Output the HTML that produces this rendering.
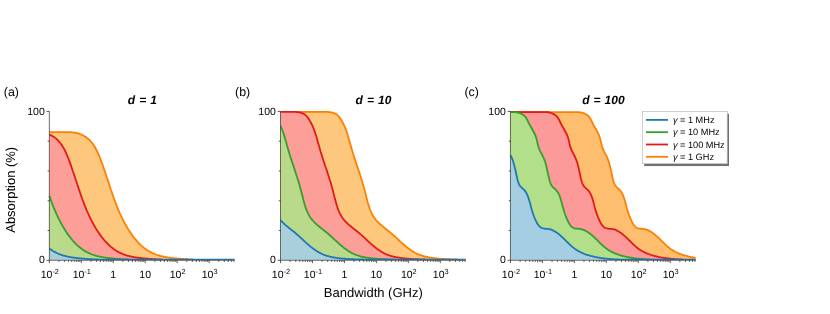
<!DOCTYPE html>
<html><head><meta charset="utf-8"><title>Absorption vs bandwidth</title>
<style>html,body{margin:0;padding:0;background:#fff}svg{display:block;will-change:transform;opacity:0.999}svg text{font-family:"Liberation Sans",sans-serif}</style></head>
<body>
<svg width="830" height="314" viewBox="0 0 830 314" font-family="Liberation Sans, sans-serif" fill="#000" text-rendering="geometricPrecision">
<rect width="830" height="314" fill="#fff"/>
<clipPath id="cpa"><rect x="47.35" y="100" width="189.20" height="160.20"/></clipPath><g clip-path="url(#cpa)"><polygon points="49.35,259.90 49.4,132.08 50.1,132.08 50.8,132.08 51.5,132.08 52.2,132.08 52.9,132.08 53.6,132.08 54.4,132.08 55.1,132.08 55.8,132.08 56.5,132.08 57.2,132.08 57.9,132.08 58.6,132.08 59.4,132.08 60.1,132.08 60.8,132.08 61.5,132.08 62.2,132.08 62.9,132.08 63.7,132.08 64.4,132.08 65.1,132.08 65.8,132.08 66.5,132.08 67.2,132.08 67.9,132.08 68.7,132.08 69.4,132.08 70.1,132.10 70.8,132.16 71.5,132.22 72.2,132.30 72.9,132.39 73.7,132.50 74.4,132.62 75.1,132.75 75.8,132.90 76.5,133.06 77.2,133.24 78.0,133.44 78.7,133.66 79.4,133.89 80.1,134.15 80.8,134.42 81.5,134.72 82.2,135.04 83.0,135.39 83.7,135.77 84.4,136.17 85.1,136.60 85.8,137.07 86.5,137.57 87.2,138.11 88.0,138.69 88.7,139.31 89.4,139.98 90.1,140.70 90.8,141.47 91.5,142.30 92.3,143.19 93.0,144.15 93.7,145.18 94.4,146.28 95.1,147.46 95.8,148.72 96.5,150.08 97.3,151.52 98.0,153.06 98.7,154.70 99.4,156.42 100.1,158.23 100.8,160.11 101.5,162.05 102.3,164.03 103.0,166.05 103.7,168.10 104.4,170.19 105.1,172.30 105.8,174.43 106.6,176.58 107.3,178.74 108.0,180.90 108.7,183.07 109.4,185.22 110.1,187.37 110.8,189.50 111.6,191.60 112.3,193.68 113.0,195.73 113.7,197.74 114.4,199.71 115.1,201.64 115.9,203.53 116.6,205.37 117.3,207.17 118.0,208.92 118.7,210.62 119.4,212.28 120.1,213.89 120.9,215.46 121.6,216.98 122.3,218.46 123.0,219.90 123.7,221.30 124.4,222.66 125.1,223.98 125.9,225.27 126.6,226.51 127.3,227.73 128.0,228.90 128.7,230.05 129.4,231.16 130.2,232.24 130.9,233.29 131.6,234.31 132.3,235.31 133.0,236.27 133.7,237.21 134.4,238.12 135.2,239.01 135.9,239.87 136.6,240.70 137.3,241.51 138.0,242.29 138.7,243.04 139.4,243.77 140.2,244.47 140.9,245.15 141.6,245.80 142.3,246.43 143.0,247.04 143.7,247.62 144.5,248.18 145.2,248.71 145.9,249.23 146.6,249.72 147.3,250.20 148.0,250.65 148.7,251.09 149.5,251.51 150.2,251.90 150.9,252.28 151.6,252.65 152.3,253.00 153.0,253.33 153.7,253.64 154.5,253.94 155.2,254.23 155.9,254.50 156.6,254.75 157.3,255.00 158.0,255.23 158.8,255.44 159.5,255.65 160.2,255.85 160.9,256.03 161.6,256.21 162.3,256.38 163.0,256.54 163.8,256.69 164.5,256.83 165.2,256.97 165.9,257.10 166.6,257.22 167.3,257.34 168.0,257.46 168.8,257.56 169.5,257.67 170.2,257.76 170.9,257.86 171.6,257.95 172.3,258.03 173.1,258.12 173.8,258.19 174.5,258.27 175.2,258.34 175.9,258.41 176.6,258.48 177.3,258.54 178.1,258.60 178.8,258.66 179.5,258.72 180.2,258.77 180.9,258.83 181.6,258.88 182.4,258.93 183.1,258.98 183.8,259.02 184.5,259.07 185.2,259.11 185.9,259.15 186.6,259.20 187.4,259.24 188.1,259.27 188.8,259.31 189.5,259.35 190.2,259.38 190.9,259.41 191.6,259.44 192.4,259.47 193.1,259.50 193.8,259.53 194.5,259.56 195.2,259.58 195.9,259.60 196.7,259.60 197.4,259.60 198.1,259.60 198.8,259.60 199.5,259.60 200.2,259.60 200.9,259.60 201.7,259.60 202.4,259.60 203.1,259.60 203.8,259.60 204.5,259.60 205.2,259.60 205.9,259.60 206.7,259.60 207.4,259.60 208.1,259.60 208.8,259.60 209.5,259.60 210.2,259.60 211.0,259.60 211.7,259.60 212.4,259.60 213.1,259.60 213.8,259.60 214.5,259.60 215.2,259.60 216.0,259.60 216.7,259.60 217.4,259.60 218.1,259.60 218.8,259.60 219.5,259.60 220.2,259.60 221.0,259.60 221.7,259.60 222.4,259.60 223.1,259.60 223.8,259.60 224.5,259.60 225.3,259.60 226.0,259.60 226.7,259.60 227.4,259.60 228.1,259.60 228.8,259.60 229.5,259.60 230.3,259.60 231.0,259.60 231.7,259.60 232.4,259.60 233.1,259.60 233.8,259.60 234.6,259.60 234.55,259.90" fill="#fdc77e" stroke="none"/>
<polyline points="49.4,132.08 50.1,132.08 50.8,132.08 51.5,132.08 52.2,132.08 52.9,132.08 53.6,132.08 54.4,132.08 55.1,132.08 55.8,132.08 56.5,132.08 57.2,132.08 57.9,132.08 58.6,132.08 59.4,132.08 60.1,132.08 60.8,132.08 61.5,132.08 62.2,132.08 62.9,132.08 63.7,132.08 64.4,132.08 65.1,132.08 65.8,132.08 66.5,132.08 67.2,132.08 67.9,132.08 68.7,132.08 69.4,132.08 70.1,132.10 70.8,132.16 71.5,132.22 72.2,132.30 72.9,132.39 73.7,132.50 74.4,132.62 75.1,132.75 75.8,132.90 76.5,133.06 77.2,133.24 78.0,133.44 78.7,133.66 79.4,133.89 80.1,134.15 80.8,134.42 81.5,134.72 82.2,135.04 83.0,135.39 83.7,135.77 84.4,136.17 85.1,136.60 85.8,137.07 86.5,137.57 87.2,138.11 88.0,138.69 88.7,139.31 89.4,139.98 90.1,140.70 90.8,141.47 91.5,142.30 92.3,143.19 93.0,144.15 93.7,145.18 94.4,146.28 95.1,147.46 95.8,148.72 96.5,150.08 97.3,151.52 98.0,153.06 98.7,154.70 99.4,156.42 100.1,158.23 100.8,160.11 101.5,162.05 102.3,164.03 103.0,166.05 103.7,168.10 104.4,170.19 105.1,172.30 105.8,174.43 106.6,176.58 107.3,178.74 108.0,180.90 108.7,183.07 109.4,185.22 110.1,187.37 110.8,189.50 111.6,191.60 112.3,193.68 113.0,195.73 113.7,197.74 114.4,199.71 115.1,201.64 115.9,203.53 116.6,205.37 117.3,207.17 118.0,208.92 118.7,210.62 119.4,212.28 120.1,213.89 120.9,215.46 121.6,216.98 122.3,218.46 123.0,219.90 123.7,221.30 124.4,222.66 125.1,223.98 125.9,225.27 126.6,226.51 127.3,227.73 128.0,228.90 128.7,230.05 129.4,231.16 130.2,232.24 130.9,233.29 131.6,234.31 132.3,235.31 133.0,236.27 133.7,237.21 134.4,238.12 135.2,239.01 135.9,239.87 136.6,240.70 137.3,241.51 138.0,242.29 138.7,243.04 139.4,243.77 140.2,244.47 140.9,245.15 141.6,245.80 142.3,246.43 143.0,247.04 143.7,247.62 144.5,248.18 145.2,248.71 145.9,249.23 146.6,249.72 147.3,250.20 148.0,250.65 148.7,251.09 149.5,251.51 150.2,251.90 150.9,252.28 151.6,252.65 152.3,253.00 153.0,253.33 153.7,253.64 154.5,253.94 155.2,254.23 155.9,254.50 156.6,254.75 157.3,255.00 158.0,255.23 158.8,255.44 159.5,255.65 160.2,255.85 160.9,256.03 161.6,256.21 162.3,256.38 163.0,256.54 163.8,256.69 164.5,256.83 165.2,256.97 165.9,257.10 166.6,257.22 167.3,257.34 168.0,257.46 168.8,257.56 169.5,257.67 170.2,257.76 170.9,257.86 171.6,257.95 172.3,258.03 173.1,258.12 173.8,258.19 174.5,258.27 175.2,258.34 175.9,258.41 176.6,258.48 177.3,258.54 178.1,258.60 178.8,258.66 179.5,258.72 180.2,258.77 180.9,258.83 181.6,258.88 182.4,258.93 183.1,258.98 183.8,259.02 184.5,259.07 185.2,259.11 185.9,259.15 186.6,259.20 187.4,259.24 188.1,259.27 188.8,259.31 189.5,259.35 190.2,259.38 190.9,259.41 191.6,259.44 192.4,259.47 193.1,259.50" fill="none" stroke="#ff7f00" stroke-width="1.8" stroke-linejoin="round"/>
<polygon points="49.35,259.90 49.4,134.58 50.1,134.89 50.8,135.23 51.5,135.59 52.2,135.98 52.9,136.40 53.6,136.85 54.4,137.34 55.1,137.86 55.8,138.42 56.5,139.02 57.2,139.67 57.9,140.37 58.6,141.11 59.4,141.92 60.1,142.78 60.8,143.70 61.5,144.70 62.2,145.76 62.9,146.91 63.7,148.13 64.4,149.45 65.1,150.85 65.8,152.35 66.5,153.94 67.2,155.62 67.9,157.39 68.7,159.24 69.4,161.16 70.1,163.12 70.8,165.12 71.5,167.16 72.2,169.23 72.9,171.33 73.7,173.45 74.4,175.59 75.1,177.75 75.8,179.91 76.5,182.08 77.2,184.24 78.0,186.39 78.7,188.53 79.4,190.64 80.1,192.73 80.8,194.79 81.5,196.82 82.2,198.81 83.0,200.76 83.7,202.67 84.4,204.53 85.1,206.35 85.8,208.12 86.5,209.85 87.2,211.52 88.0,213.16 88.7,214.74 89.4,216.29 90.1,217.79 90.8,219.25 91.5,220.67 92.3,222.04 93.0,223.38 93.7,224.68 94.4,225.95 95.1,227.17 95.8,228.37 96.5,229.53 97.3,230.66 98.0,231.75 98.7,232.82 99.4,233.85 100.1,234.86 100.8,235.83 101.5,236.78 102.3,237.71 103.0,238.61 103.7,239.48 104.4,240.32 105.1,241.14 105.8,241.93 106.6,242.70 107.3,243.44 108.0,244.15 108.7,244.84 109.4,245.51 110.1,246.15 110.8,246.76 111.6,247.35 112.3,247.92 113.0,248.47 113.7,249.00 114.4,249.50 115.1,249.98 115.9,250.45 116.6,250.89 117.3,251.32 118.0,251.72 118.7,252.11 119.4,252.48 120.1,252.84 120.9,253.18 121.6,253.50 122.3,253.81 123.0,254.10 123.7,254.37 124.4,254.64 125.1,254.89 125.9,255.12 126.6,255.34 127.3,255.56 128.0,255.76 128.7,255.95 129.4,256.13 130.2,256.30 130.9,256.46 131.6,256.62 132.3,256.77 133.0,256.91 133.7,257.04 134.4,257.17 135.2,257.29 135.9,257.41 136.6,257.52 137.3,257.62 138.0,257.72 138.7,257.82 139.4,257.91 140.2,257.99 140.9,258.08 141.6,258.16 142.3,258.23 143.0,258.31 143.7,258.38 144.5,258.45 145.2,258.51 145.9,258.57 146.6,258.63 147.3,258.69 148.0,258.75 148.7,258.80 149.5,258.85 150.2,258.90 150.9,258.95 151.6,259.00 152.3,259.05 153.0,259.09 153.7,259.14 154.5,259.18 155.2,259.22 155.9,259.26 156.6,259.29 157.3,259.33 158.0,259.36 158.8,259.40 159.5,259.43 160.2,259.46 160.9,259.49 161.6,259.52 162.3,259.55 163.0,259.57 163.8,259.60 164.5,259.60 165.2,259.60 165.9,259.60 166.6,259.60 167.3,259.60 168.0,259.60 168.8,259.60 169.5,259.60 170.2,259.60 170.9,259.60 171.6,259.60 172.3,259.60 173.1,259.60 173.8,259.60 174.5,259.60 175.2,259.60 175.9,259.60 176.6,259.60 177.3,259.60 178.1,259.60 178.8,259.60 179.5,259.60 180.2,259.60 180.9,259.60 181.6,259.60 182.4,259.60 183.1,259.60 183.8,259.60 184.5,259.60 185.2,259.60 185.9,259.60 186.6,259.60 187.4,259.60 188.1,259.60 188.8,259.60 189.5,259.60 190.2,259.60 190.9,259.60 191.6,259.60 192.4,259.60 193.1,259.60 193.8,259.60 194.5,259.60 195.2,259.60 195.9,259.60 196.7,259.60 197.4,259.60 198.1,259.60 198.8,259.60 199.5,259.60 200.2,259.60 200.9,259.60 201.7,259.60 202.4,259.60 203.1,259.60 203.8,259.60 204.5,259.60 205.2,259.60 205.9,259.60 206.7,259.60 207.4,259.60 208.1,259.60 208.8,259.60 209.5,259.60 210.2,259.60 211.0,259.60 211.7,259.60 212.4,259.60 213.1,259.60 213.8,259.60 214.5,259.60 215.2,259.60 216.0,259.60 216.7,259.60 217.4,259.60 218.1,259.60 218.8,259.60 219.5,259.60 220.2,259.60 221.0,259.60 221.7,259.60 222.4,259.60 223.1,259.60 223.8,259.60 224.5,259.60 225.3,259.60 226.0,259.60 226.7,259.60 227.4,259.60 228.1,259.60 228.8,259.60 229.5,259.60 230.3,259.60 231.0,259.60 231.7,259.60 232.4,259.60 233.1,259.60 233.8,259.60 234.6,259.60 234.55,259.90" fill="#fb9f98" stroke="none"/>
<polyline points="49.4,134.58 50.1,134.89 50.8,135.23 51.5,135.59 52.2,135.98 52.9,136.40 53.6,136.85 54.4,137.34 55.1,137.86 55.8,138.42 56.5,139.02 57.2,139.67 57.9,140.37 58.6,141.11 59.4,141.92 60.1,142.78 60.8,143.70 61.5,144.70 62.2,145.76 62.9,146.91 63.7,148.13 64.4,149.45 65.1,150.85 65.8,152.35 66.5,153.94 67.2,155.62 67.9,157.39 68.7,159.24 69.4,161.16 70.1,163.12 70.8,165.12 71.5,167.16 72.2,169.23 72.9,171.33 73.7,173.45 74.4,175.59 75.1,177.75 75.8,179.91 76.5,182.08 77.2,184.24 78.0,186.39 78.7,188.53 79.4,190.64 80.1,192.73 80.8,194.79 81.5,196.82 82.2,198.81 83.0,200.76 83.7,202.67 84.4,204.53 85.1,206.35 85.8,208.12 86.5,209.85 87.2,211.52 88.0,213.16 88.7,214.74 89.4,216.29 90.1,217.79 90.8,219.25 91.5,220.67 92.3,222.04 93.0,223.38 93.7,224.68 94.4,225.95 95.1,227.17 95.8,228.37 96.5,229.53 97.3,230.66 98.0,231.75 98.7,232.82 99.4,233.85 100.1,234.86 100.8,235.83 101.5,236.78 102.3,237.71 103.0,238.61 103.7,239.48 104.4,240.32 105.1,241.14 105.8,241.93 106.6,242.70 107.3,243.44 108.0,244.15 108.7,244.84 109.4,245.51 110.1,246.15 110.8,246.76 111.6,247.35 112.3,247.92 113.0,248.47 113.7,249.00 114.4,249.50 115.1,249.98 115.9,250.45 116.6,250.89 117.3,251.32 118.0,251.72 118.7,252.11 119.4,252.48 120.1,252.84 120.9,253.18 121.6,253.50 122.3,253.81 123.0,254.10 123.7,254.37 124.4,254.64 125.1,254.89 125.9,255.12 126.6,255.34 127.3,255.56 128.0,255.76 128.7,255.95 129.4,256.13 130.2,256.30 130.9,256.46 131.6,256.62 132.3,256.77 133.0,256.91 133.7,257.04 134.4,257.17 135.2,257.29 135.9,257.41 136.6,257.52 137.3,257.62 138.0,257.72 138.7,257.82 139.4,257.91 140.2,257.99 140.9,258.08 141.6,258.16 142.3,258.23 143.0,258.31 143.7,258.38 144.5,258.45 145.2,258.51 145.9,258.57 146.6,258.63 147.3,258.69 148.0,258.75 148.7,258.80 149.5,258.85 150.2,258.90 150.9,258.95 151.6,259.00 152.3,259.05 153.0,259.09 153.7,259.14 154.5,259.18 155.2,259.22 155.9,259.26 156.6,259.29 157.3,259.33 158.0,259.36 158.8,259.40 159.5,259.43 160.2,259.46 160.9,259.49 161.6,259.52" fill="none" stroke="#e31a1c" stroke-width="1.8" stroke-linejoin="round"/>
<polygon points="49.35,259.90 49.4,195.90 50.1,197.90 50.8,199.87 51.5,201.80 52.2,203.68 52.9,205.52 53.6,207.32 54.4,209.06 55.1,210.76 55.8,212.41 56.5,214.02 57.2,215.59 57.9,217.11 58.6,218.58 59.4,220.02 60.1,221.42 60.8,222.77 61.5,224.09 62.2,225.37 62.9,226.62 63.7,227.83 64.4,229.00 65.1,230.14 65.8,231.25 66.5,232.33 67.2,233.38 67.9,234.40 68.7,235.39 69.4,236.35 70.1,237.29 70.8,238.20 71.5,239.08 72.2,239.94 72.9,240.77 73.7,241.57 74.4,242.35 75.1,243.10 75.8,243.83 76.5,244.53 77.2,245.21 78.0,245.86 78.7,246.48 79.4,247.08 80.1,247.66 80.8,248.22 81.5,248.76 82.2,249.27 83.0,249.76 83.7,250.24 84.4,250.69 85.1,251.12 85.8,251.54 86.5,251.94 87.2,252.32 88.0,252.68 88.7,253.02 89.4,253.35 90.1,253.67 90.8,253.97 91.5,254.25 92.3,254.52 93.0,254.77 93.7,255.02 94.4,255.24 95.1,255.46 95.8,255.67 96.5,255.86 97.3,256.05 98.0,256.22 98.7,256.39 99.4,256.55 100.1,256.70 100.8,256.84 101.5,256.98 102.3,257.11 103.0,257.23 103.7,257.35 104.4,257.47 105.1,257.57 105.8,257.68 106.6,257.77 107.3,257.87 108.0,257.96 108.7,258.04 109.4,258.12 110.1,258.20 110.8,258.27 111.6,258.35 112.3,258.41 113.0,258.48 113.7,258.54 114.4,258.61 115.1,258.66 115.9,258.72 116.6,258.78 117.3,258.83 118.0,258.88 118.7,258.93 119.4,258.98 120.1,259.03 120.9,259.07 121.6,259.12 122.3,259.16 123.0,259.20 123.7,259.24 124.4,259.28 125.1,259.31 125.9,259.35 126.6,259.38 127.3,259.41 128.0,259.45 128.7,259.48 129.4,259.51 130.2,259.53 130.9,259.56 131.6,259.59 132.3,259.60 133.0,259.60 133.7,259.60 134.4,259.60 135.2,259.60 135.9,259.60 136.6,259.60 137.3,259.60 138.0,259.60 138.7,259.60 139.4,259.60 140.2,259.60 140.9,259.60 141.6,259.60 142.3,259.60 143.0,259.60 143.7,259.60 144.5,259.60 145.2,259.60 145.9,259.60 146.6,259.60 147.3,259.60 148.0,259.60 148.7,259.60 149.5,259.60 150.2,259.60 150.9,259.60 151.6,259.60 152.3,259.60 153.0,259.60 153.7,259.60 154.5,259.60 155.2,259.60 155.9,259.60 156.6,259.60 157.3,259.60 158.0,259.60 158.8,259.60 159.5,259.60 160.2,259.60 160.9,259.60 161.6,259.60 162.3,259.60 163.0,259.60 163.8,259.60 164.5,259.60 165.2,259.60 165.9,259.60 166.6,259.60 167.3,259.60 168.0,259.60 168.8,259.60 169.5,259.60 170.2,259.60 170.9,259.60 171.6,259.60 172.3,259.60 173.1,259.60 173.8,259.60 174.5,259.60 175.2,259.60 175.9,259.60 176.6,259.60 177.3,259.60 178.1,259.60 178.8,259.60 179.5,259.60 180.2,259.60 180.9,259.60 181.6,259.60 182.4,259.60 183.1,259.60 183.8,259.60 184.5,259.60 185.2,259.60 185.9,259.60 186.6,259.60 187.4,259.60 188.1,259.60 188.8,259.60 189.5,259.60 190.2,259.60 190.9,259.60 191.6,259.60 192.4,259.60 193.1,259.60 193.8,259.60 194.5,259.60 195.2,259.60 195.9,259.60 196.7,259.60 197.4,259.60 198.1,259.60 198.8,259.60 199.5,259.60 200.2,259.60 200.9,259.60 201.7,259.60 202.4,259.60 203.1,259.60 203.8,259.60 204.5,259.60 205.2,259.60 205.9,259.60 206.7,259.60 207.4,259.60 208.1,259.60 208.8,259.60 209.5,259.60 210.2,259.60 211.0,259.60 211.7,259.60 212.4,259.60 213.1,259.60 213.8,259.60 214.5,259.60 215.2,259.60 216.0,259.60 216.7,259.60 217.4,259.60 218.1,259.60 218.8,259.60 219.5,259.60 220.2,259.60 221.0,259.60 221.7,259.60 222.4,259.60 223.1,259.60 223.8,259.60 224.5,259.60 225.3,259.60 226.0,259.60 226.7,259.60 227.4,259.60 228.1,259.60 228.8,259.60 229.5,259.60 230.3,259.60 231.0,259.60 231.7,259.60 232.4,259.60 233.1,259.60 233.8,259.60 234.6,259.60 234.55,259.90" fill="#b9d98b" stroke="none"/>
<polyline points="49.4,195.90 50.1,197.90 50.8,199.87 51.5,201.80 52.2,203.68 52.9,205.52 53.6,207.32 54.4,209.06 55.1,210.76 55.8,212.41 56.5,214.02 57.2,215.59 57.9,217.11 58.6,218.58 59.4,220.02 60.1,221.42 60.8,222.77 61.5,224.09 62.2,225.37 62.9,226.62 63.7,227.83 64.4,229.00 65.1,230.14 65.8,231.25 66.5,232.33 67.2,233.38 67.9,234.40 68.7,235.39 69.4,236.35 70.1,237.29 70.8,238.20 71.5,239.08 72.2,239.94 72.9,240.77 73.7,241.57 74.4,242.35 75.1,243.10 75.8,243.83 76.5,244.53 77.2,245.21 78.0,245.86 78.7,246.48 79.4,247.08 80.1,247.66 80.8,248.22 81.5,248.76 82.2,249.27 83.0,249.76 83.7,250.24 84.4,250.69 85.1,251.12 85.8,251.54 86.5,251.94 87.2,252.32 88.0,252.68 88.7,253.02 89.4,253.35 90.1,253.67 90.8,253.97 91.5,254.25 92.3,254.52 93.0,254.77 93.7,255.02 94.4,255.24 95.1,255.46 95.8,255.67 96.5,255.86 97.3,256.05 98.0,256.22 98.7,256.39 99.4,256.55 100.1,256.70 100.8,256.84 101.5,256.98 102.3,257.11 103.0,257.23 103.7,257.35 104.4,257.47 105.1,257.57 105.8,257.68 106.6,257.77 107.3,257.87 108.0,257.96 108.7,258.04 109.4,258.12 110.1,258.20 110.8,258.27 111.6,258.35 112.3,258.41 113.0,258.48 113.7,258.54 114.4,258.61 115.1,258.66 115.9,258.72 116.6,258.78 117.3,258.83 118.0,258.88 118.7,258.93 119.4,258.98 120.1,259.03 120.9,259.07 121.6,259.12 122.3,259.16 123.0,259.20 123.7,259.24 124.4,259.28 125.1,259.31 125.9,259.35 126.6,259.38 127.3,259.41 128.0,259.45 128.7,259.48 129.4,259.51" fill="none" stroke="#33a02c" stroke-width="1.8" stroke-linejoin="round"/>
<polygon points="49.35,259.90 49.4,248.51 50.1,249.04 50.8,249.54 51.5,250.02 52.2,250.48 52.9,250.93 53.6,251.35 54.4,251.76 55.1,252.14 55.8,252.51 56.5,252.87 57.2,253.20 57.9,253.53 58.6,253.83 59.4,254.12 60.1,254.40 60.8,254.66 61.5,254.91 62.2,255.14 62.9,255.36 63.7,255.57 64.4,255.77 65.1,255.96 65.8,256.14 66.5,256.31 67.2,256.48 67.9,256.63 68.7,256.78 69.4,256.92 70.1,257.05 70.8,257.18 71.5,257.30 72.2,257.41 72.9,257.52 73.7,257.63 74.4,257.73 75.1,257.82 75.8,257.91 76.5,258.00 77.2,258.08 78.0,258.16 78.7,258.24 79.4,258.31 80.1,258.38 80.8,258.45 81.5,258.52 82.2,258.58 83.0,258.64 83.7,258.70 84.4,258.75 85.1,258.81 85.8,258.86 86.5,258.91 87.2,258.96 88.0,259.01 88.7,259.05 89.4,259.10 90.1,259.14 90.8,259.18 91.5,259.22 92.3,259.26 93.0,259.30 93.7,259.33 94.4,259.37 95.1,259.40 95.8,259.43 96.5,259.46 97.3,259.49 98.0,259.52 98.7,259.55 99.4,259.57 100.1,259.60 100.8,259.60 101.5,259.60 102.3,259.60 103.0,259.60 103.7,259.60 104.4,259.60 105.1,259.60 105.8,259.60 106.6,259.60 107.3,259.60 108.0,259.60 108.7,259.60 109.4,259.60 110.1,259.60 110.8,259.60 111.6,259.60 112.3,259.60 113.0,259.60 113.7,259.60 114.4,259.60 115.1,259.60 115.9,259.60 116.6,259.60 117.3,259.60 118.0,259.60 118.7,259.60 119.4,259.60 120.1,259.60 120.9,259.60 121.6,259.60 122.3,259.60 123.0,259.60 123.7,259.60 124.4,259.60 125.1,259.60 125.9,259.60 126.6,259.60 127.3,259.60 128.0,259.60 128.7,259.60 129.4,259.60 130.2,259.60 130.9,259.60 131.6,259.60 132.3,259.60 133.0,259.60 133.7,259.60 134.4,259.60 135.2,259.60 135.9,259.60 136.6,259.60 137.3,259.60 138.0,259.60 138.7,259.60 139.4,259.60 140.2,259.60 140.9,259.60 141.6,259.60 142.3,259.60 143.0,259.60 143.7,259.60 144.5,259.60 145.2,259.60 145.9,259.60 146.6,259.60 147.3,259.60 148.0,259.60 148.7,259.60 149.5,259.60 150.2,259.60 150.9,259.60 151.6,259.60 152.3,259.60 153.0,259.60 153.7,259.60 154.5,259.60 155.2,259.60 155.9,259.60 156.6,259.60 157.3,259.60 158.0,259.60 158.8,259.60 159.5,259.60 160.2,259.60 160.9,259.60 161.6,259.60 162.3,259.60 163.0,259.60 163.8,259.60 164.5,259.60 165.2,259.60 165.9,259.60 166.6,259.60 167.3,259.60 168.0,259.60 168.8,259.60 169.5,259.60 170.2,259.60 170.9,259.60 171.6,259.60 172.3,259.60 173.1,259.60 173.8,259.60 174.5,259.60 175.2,259.60 175.9,259.60 176.6,259.60 177.3,259.60 178.1,259.60 178.8,259.60 179.5,259.60 180.2,259.60 180.9,259.60 181.6,259.60 182.4,259.60 183.1,259.60 183.8,259.60 184.5,259.60 185.2,259.60 185.9,259.60 186.6,259.60 187.4,259.60 188.1,259.60 188.8,259.60 189.5,259.60 190.2,259.60 190.9,259.60 191.6,259.60 192.4,259.60 193.1,259.60 193.8,259.60 194.5,259.60 195.2,259.60 195.9,259.60 196.7,259.60 197.4,259.60 198.1,259.60 198.8,259.60 199.5,259.60 200.2,259.60 200.9,259.60 201.7,259.60 202.4,259.60 203.1,259.60 203.8,259.60 204.5,259.60 205.2,259.60 205.9,259.60 206.7,259.60 207.4,259.60 208.1,259.60 208.8,259.60 209.5,259.60 210.2,259.60 211.0,259.60 211.7,259.60 212.4,259.60 213.1,259.60 213.8,259.60 214.5,259.60 215.2,259.60 216.0,259.60 216.7,259.60 217.4,259.60 218.1,259.60 218.8,259.60 219.5,259.60 220.2,259.60 221.0,259.60 221.7,259.60 222.4,259.60 223.1,259.60 223.8,259.60 224.5,259.60 225.3,259.60 226.0,259.60 226.7,259.60 227.4,259.60 228.1,259.60 228.8,259.60 229.5,259.60 230.3,259.60 231.0,259.60 231.7,259.60 232.4,259.60 233.1,259.60 233.8,259.60 234.6,259.60 234.55,259.90" fill="#a9cfdb" stroke="none"/>
<polyline points="49.4,248.51 50.1,249.04 50.8,249.54 51.5,250.02 52.2,250.48 52.9,250.93 53.6,251.35 54.4,251.76 55.1,252.14 55.8,252.51 56.5,252.87 57.2,253.20 57.9,253.53 58.6,253.83 59.4,254.12 60.1,254.40 60.8,254.66 61.5,254.91 62.2,255.14 62.9,255.36 63.7,255.57 64.4,255.77 65.1,255.96 65.8,256.14 66.5,256.31 67.2,256.48 67.9,256.63 68.7,256.78 69.4,256.92 70.1,257.05 70.8,257.18 71.5,257.30 72.2,257.41 72.9,257.52 73.7,257.63 74.4,257.73 75.1,257.82 75.8,257.91 76.5,258.00 77.2,258.08 78.0,258.16 78.7,258.24 79.4,258.31 80.1,258.38 80.8,258.45 81.5,258.52 82.2,258.58 83.0,258.64 83.7,258.70 84.4,258.75 85.1,258.81 85.8,258.86 86.5,258.91 87.2,258.96 88.0,259.01 88.7,259.05 89.4,259.10 90.1,259.14 90.8,259.18 91.5,259.22 92.3,259.26 93.0,259.30 93.7,259.33 94.4,259.37 95.1,259.40 95.8,259.43 96.5,259.46 97.3,259.49 98.0,259.52 98.7,259.55 99.4,259.57 100.1,259.60 100.8,259.60 101.5,259.60 102.3,259.60 103.0,259.60 103.7,259.60 104.4,259.60 105.1,259.60 105.8,259.60 106.6,259.60 107.3,259.60 108.0,259.60 108.7,259.60 109.4,259.60 110.1,259.60 110.8,259.60 111.6,259.60 112.3,259.60 113.0,259.60 113.7,259.60 114.4,259.60 115.1,259.60 115.9,259.60 116.6,259.60 117.3,259.60 118.0,259.60 118.7,259.60 119.4,259.60 120.1,259.60 120.9,259.60 121.6,259.60 122.3,259.60 123.0,259.60 123.7,259.60 124.4,259.60 125.1,259.60 125.9,259.60 126.6,259.60 127.3,259.60 128.0,259.60 128.7,259.60 129.4,259.60 130.2,259.60 130.9,259.60 131.6,259.60 132.3,259.60 133.0,259.60 133.7,259.60 134.4,259.60 135.2,259.60 135.9,259.60 136.6,259.60 137.3,259.60 138.0,259.60 138.7,259.60 139.4,259.60 140.2,259.60 140.9,259.60 141.6,259.60 142.3,259.60 143.0,259.60 143.7,259.60 144.5,259.60 145.2,259.60 145.9,259.60 146.6,259.60 147.3,259.60 148.0,259.60 148.7,259.60 149.5,259.60 150.2,259.60 150.9,259.60 151.6,259.60 152.3,259.60 153.0,259.60 153.7,259.60 154.5,259.60 155.2,259.60 155.9,259.60 156.6,259.60 157.3,259.60 158.0,259.60 158.8,259.60 159.5,259.60 160.2,259.60 160.9,259.60 161.6,259.60 162.3,259.60 163.0,259.60 163.8,259.60 164.5,259.60 165.2,259.60 165.9,259.60 166.6,259.60 167.3,259.60 168.0,259.60 168.8,259.60 169.5,259.60 170.2,259.60 170.9,259.60 171.6,259.60 172.3,259.60 173.1,259.60 173.8,259.60 174.5,259.60 175.2,259.60 175.9,259.60 176.6,259.60 177.3,259.60 178.1,259.60 178.8,259.60 179.5,259.60 180.2,259.60 180.9,259.60 181.6,259.60 182.4,259.60 183.1,259.60 183.8,259.60 184.5,259.60 185.2,259.60 185.9,259.60 186.6,259.60 187.4,259.60 188.1,259.60 188.8,259.60 189.5,259.60 190.2,259.60 190.9,259.60 191.6,259.60 192.4,259.60 193.1,259.60 193.8,259.60 194.5,259.60 195.2,259.60 195.9,259.60 196.7,259.60 197.4,259.60 198.1,259.60 198.8,259.60 199.5,259.60 200.2,259.60 200.9,259.60 201.7,259.60 202.4,259.60 203.1,259.60 203.8,259.60 204.5,259.60 205.2,259.60 205.9,259.60 206.7,259.60 207.4,259.60 208.1,259.60 208.8,259.60 209.5,259.60 210.2,259.60 211.0,259.60 211.7,259.60 212.4,259.60 213.1,259.60 213.8,259.60 214.5,259.60 215.2,259.60 216.0,259.60 216.7,259.60 217.4,259.60 218.1,259.60 218.8,259.60 219.5,259.60 220.2,259.60 221.0,259.60 221.7,259.60 222.4,259.60 223.1,259.60 223.8,259.60 224.5,259.60 225.3,259.60 226.0,259.60 226.7,259.60 227.4,259.60 228.1,259.60 228.8,259.60 229.5,259.60 230.3,259.60 231.0,259.60 231.7,259.60 232.4,259.60 233.1,259.60 233.8,259.60 234.6,259.60" fill="none" stroke="#1f78b4" stroke-width="1.8" stroke-linejoin="round"/></g>
<clipPath id="cpb"><rect x="278.50" y="100" width="189.20" height="160.20"/></clipPath><g clip-path="url(#cpb)"><polygon points="280.50,259.90 280.5,111.93 281.2,111.93 281.9,111.93 282.6,111.93 283.4,111.93 284.1,111.93 284.8,111.93 285.5,111.93 286.2,111.93 286.9,111.93 287.7,111.93 288.4,111.93 289.1,111.93 289.8,111.93 290.5,111.93 291.2,111.93 291.9,111.93 292.7,111.93 293.4,111.93 294.1,111.93 294.8,111.93 295.5,111.93 296.2,111.94 296.9,111.94 297.7,111.94 298.4,111.95 299.1,111.95 299.8,111.95 300.5,111.95 301.2,111.96 302.0,111.96 302.7,111.96 303.4,111.96 304.1,111.96 304.8,111.96 305.5,111.96 306.2,111.96 307.0,111.96 307.7,111.96 308.4,111.96 309.1,111.96 309.8,111.96 310.5,111.96 311.2,111.96 312.0,111.96 312.7,111.96 313.4,111.96 314.1,111.96 314.8,111.96 315.5,111.96 316.3,111.96 317.0,111.96 317.7,111.96 318.4,111.96 319.1,111.96 319.8,111.96 320.5,111.96 321.3,111.96 322.0,111.96 322.7,111.96 323.4,111.96 324.1,111.96 324.8,111.96 325.5,111.96 326.3,111.96 327.0,111.96 327.7,111.96 328.4,112.02 329.1,112.09 329.8,112.18 330.6,112.28 331.3,112.41 332.0,112.55 332.7,112.73 333.4,112.94 334.1,113.19 334.8,113.49 335.6,113.86 336.3,114.30 337.0,114.83 337.7,115.44 338.4,116.15 339.1,116.96 339.8,117.88 340.6,118.91 341.3,120.02 342.0,121.23 342.7,122.53 343.4,123.94 344.1,125.47 344.9,127.12 345.6,128.90 346.3,130.82 347.0,132.89 347.7,135.09 348.4,137.43 349.1,139.87 349.9,142.39 350.6,144.95 351.3,147.49 352.0,149.99 352.7,152.39 353.4,154.72 354.2,156.99 354.9,159.21 355.6,161.40 356.3,163.56 357.0,165.70 357.7,167.84 358.4,169.98 359.2,172.13 359.9,174.30 360.6,176.51 361.3,178.75 362.0,181.05 362.7,183.42 363.4,185.87 364.2,188.43 364.9,191.13 365.6,193.96 366.3,196.82 367.0,199.62 367.7,202.28 368.5,204.75 369.2,207.00 369.9,209.03 370.6,210.87 371.3,212.51 372.0,214.00 372.7,215.33 373.5,216.54 374.2,217.63 374.9,218.62 375.6,219.54 376.3,220.39 377.0,221.19 377.7,221.95 378.5,222.67 379.2,223.36 379.9,224.02 380.6,224.66 381.3,225.28 382.0,225.88 382.8,226.47 383.5,227.06 384.2,227.63 384.9,228.20 385.6,228.76 386.3,229.32 387.0,229.88 387.8,230.44 388.5,231.01 389.2,231.59 389.9,232.17 390.6,232.76 391.3,233.37 392.0,233.98 392.8,234.60 393.5,235.24 394.2,235.88 394.9,236.53 395.6,237.18 396.3,237.83 397.1,238.49 397.8,239.16 398.5,239.82 399.2,240.48 399.9,241.14 400.6,241.80 401.3,242.45 402.1,243.09 402.8,243.73 403.5,244.36 404.2,244.99 404.9,245.60 405.6,246.20 406.4,246.79 407.1,247.37 407.8,247.94 408.5,248.48 409.2,249.02 409.9,249.54 410.6,250.04 411.4,250.52 412.1,250.99 412.8,251.44 413.5,251.87 414.2,252.28 414.9,252.68 415.6,253.05 416.4,253.41 417.1,253.76 417.8,254.08 418.5,254.39 419.2,254.68 419.9,254.96 420.7,255.22 421.4,255.46 422.1,255.69 422.8,255.91 423.5,256.12 424.2,256.31 424.9,256.50 425.7,256.67 426.4,256.84 427.1,257.00 427.8,257.15 428.5,257.29 429.2,257.42 429.9,257.54 430.7,257.66 431.4,257.78 432.1,257.88 432.8,257.98 433.5,258.08 434.2,258.17 435.0,258.25 435.7,258.33 436.4,258.41 437.1,258.48 437.8,258.55 438.5,258.61 439.2,258.67 440.0,258.73 440.7,258.79 441.4,258.84 442.1,258.88 442.8,258.93 443.5,258.97 444.2,259.01 445.0,259.05 445.7,259.09 446.4,259.12 447.1,259.15 447.8,259.19 448.5,259.22 449.3,259.24 450.0,259.27 450.7,259.30 451.4,259.32 452.1,259.34 452.8,259.37 453.5,259.39 454.3,259.41 455.0,259.43 455.7,259.45 456.4,259.47 457.1,259.49 457.8,259.51 458.5,259.53 459.3,259.55 460.0,259.56 460.7,259.58 461.4,259.60 462.1,259.60 462.8,259.60 463.6,259.60 464.3,259.60 465.0,259.60 465.7,259.60 465.70,259.90" fill="#fdc77e" stroke="none"/>
<polyline points="280.5,111.93 281.2,111.93 281.9,111.93 282.6,111.93 283.4,111.93 284.1,111.93 284.8,111.93 285.5,111.93 286.2,111.93 286.9,111.93 287.7,111.93 288.4,111.93 289.1,111.93 289.8,111.93 290.5,111.93 291.2,111.93 291.9,111.93 292.7,111.93 293.4,111.93 294.1,111.93 294.8,111.93 295.5,111.93 296.2,111.94 296.9,111.94 297.7,111.94 298.4,111.95 299.1,111.95 299.8,111.95 300.5,111.95 301.2,111.96 302.0,111.96 302.7,111.96 303.4,111.96 304.1,111.96 304.8,111.96 305.5,111.96 306.2,111.96 307.0,111.96 307.7,111.96 308.4,111.96 309.1,111.96 309.8,111.96 310.5,111.96 311.2,111.96 312.0,111.96 312.7,111.96 313.4,111.96 314.1,111.96 314.8,111.96 315.5,111.96 316.3,111.96 317.0,111.96 317.7,111.96 318.4,111.96 319.1,111.96 319.8,111.96 320.5,111.96 321.3,111.96 322.0,111.96 322.7,111.96 323.4,111.96 324.1,111.96 324.8,111.96 325.5,111.96 326.3,111.96 327.0,111.96 327.7,111.96 328.4,112.02 329.1,112.09 329.8,112.18 330.6,112.28 331.3,112.41 332.0,112.55 332.7,112.73 333.4,112.94 334.1,113.19 334.8,113.49 335.6,113.86 336.3,114.30 337.0,114.83 337.7,115.44 338.4,116.15 339.1,116.96 339.8,117.88 340.6,118.91 341.3,120.02 342.0,121.23 342.7,122.53 343.4,123.94 344.1,125.47 344.9,127.12 345.6,128.90 346.3,130.82 347.0,132.89 347.7,135.09 348.4,137.43 349.1,139.87 349.9,142.39 350.6,144.95 351.3,147.49 352.0,149.99 352.7,152.39 353.4,154.72 354.2,156.99 354.9,159.21 355.6,161.40 356.3,163.56 357.0,165.70 357.7,167.84 358.4,169.98 359.2,172.13 359.9,174.30 360.6,176.51 361.3,178.75 362.0,181.05 362.7,183.42 363.4,185.87 364.2,188.43 364.9,191.13 365.6,193.96 366.3,196.82 367.0,199.62 367.7,202.28 368.5,204.75 369.2,207.00 369.9,209.03 370.6,210.87 371.3,212.51 372.0,214.00 372.7,215.33 373.5,216.54 374.2,217.63 374.9,218.62 375.6,219.54 376.3,220.39 377.0,221.19 377.7,221.95 378.5,222.67 379.2,223.36 379.9,224.02 380.6,224.66 381.3,225.28 382.0,225.88 382.8,226.47 383.5,227.06 384.2,227.63 384.9,228.20 385.6,228.76 386.3,229.32 387.0,229.88 387.8,230.44 388.5,231.01 389.2,231.59 389.9,232.17 390.6,232.76 391.3,233.37 392.0,233.98 392.8,234.60 393.5,235.24 394.2,235.88 394.9,236.53 395.6,237.18 396.3,237.83 397.1,238.49 397.8,239.16 398.5,239.82 399.2,240.48 399.9,241.14 400.6,241.80 401.3,242.45 402.1,243.09 402.8,243.73 403.5,244.36 404.2,244.99 404.9,245.60 405.6,246.20 406.4,246.79 407.1,247.37 407.8,247.94 408.5,248.48 409.2,249.02 409.9,249.54 410.6,250.04 411.4,250.52 412.1,250.99 412.8,251.44 413.5,251.87 414.2,252.28 414.9,252.68 415.6,253.05 416.4,253.41 417.1,253.76 417.8,254.08 418.5,254.39 419.2,254.68 419.9,254.96 420.7,255.22 421.4,255.46 422.1,255.69 422.8,255.91 423.5,256.12 424.2,256.31 424.9,256.50 425.7,256.67 426.4,256.84 427.1,257.00 427.8,257.15 428.5,257.29 429.2,257.42 429.9,257.54 430.7,257.66 431.4,257.78 432.1,257.88 432.8,257.98 433.5,258.08 434.2,258.17 435.0,258.25 435.7,258.33 436.4,258.41 437.1,258.48 437.8,258.55 438.5,258.61 439.2,258.67 440.0,258.73 440.7,258.79 441.4,258.84 442.1,258.88 442.8,258.93 443.5,258.97 444.2,259.01 445.0,259.05 445.7,259.09 446.4,259.12 447.1,259.15 447.8,259.19 448.5,259.22 449.3,259.24 450.0,259.27 450.7,259.30 451.4,259.32 452.1,259.34 452.8,259.37 453.5,259.39 454.3,259.41 455.0,259.43 455.7,259.45 456.4,259.47 457.1,259.49 457.8,259.51" fill="none" stroke="#ff7f00" stroke-width="1.8" stroke-linejoin="round"/>
<polygon points="280.50,259.90 280.5,111.96 281.2,111.96 281.9,111.96 282.6,111.96 283.4,111.96 284.1,111.96 284.8,111.96 285.5,111.96 286.2,111.96 286.9,111.96 287.7,111.96 288.4,111.96 289.1,111.96 289.8,111.96 290.5,111.96 291.2,111.96 291.9,111.96 292.7,111.96 293.4,111.96 294.1,111.96 294.8,111.96 295.5,111.96 296.2,111.99 296.9,112.06 297.7,112.14 298.4,112.23 299.1,112.35 299.8,112.48 300.5,112.64 301.2,112.84 302.0,113.07 302.7,113.35 303.4,113.68 304.1,114.09 304.8,114.58 305.5,115.14 306.2,115.81 307.0,116.57 307.7,117.45 308.4,118.43 309.1,119.50 309.8,120.66 310.5,121.92 311.2,123.28 312.0,124.75 312.7,126.34 313.4,128.06 314.1,129.92 314.8,131.92 315.5,134.07 316.3,136.34 317.0,138.74 317.7,141.23 318.4,143.78 319.1,146.33 319.8,148.85 320.5,151.30 321.3,153.66 322.0,155.96 322.7,158.20 323.4,160.40 324.1,162.57 324.8,164.72 325.5,166.86 326.3,169.00 327.0,171.14 327.7,173.30 328.4,175.49 329.1,177.72 329.8,179.99 330.6,182.32 331.3,184.73 332.0,187.24 332.7,189.88 333.4,192.65 334.1,195.51 334.8,198.35 335.6,201.08 336.3,203.64 337.0,206.00 337.7,208.13 338.4,210.05 339.1,211.78 339.8,213.34 340.6,214.74 341.3,216.00 342.0,217.14 342.7,218.18 343.4,219.13 344.1,220.01 344.9,220.83 345.6,221.61 346.3,222.34 347.0,223.04 347.7,223.72 348.4,224.37 349.1,225.00 349.9,225.61 350.6,226.20 351.3,226.79 352.0,227.37 352.7,227.94 353.4,228.50 354.2,229.06 354.9,229.62 355.6,230.19 356.3,230.75 357.0,231.32 357.7,231.90 358.4,232.49 359.2,233.09 359.9,233.70 360.6,234.32 361.3,234.95 362.0,235.58 362.7,236.23 363.4,236.88 364.2,237.53 364.9,238.19 365.6,238.85 366.3,239.52 367.0,240.18 367.7,240.84 368.5,241.50 369.2,242.15 369.9,242.80 370.6,243.44 371.3,244.08 372.0,244.70 372.7,245.32 373.5,245.93 374.2,246.52 374.9,247.11 375.6,247.68 376.3,248.23 377.0,248.78 377.7,249.30 378.5,249.81 379.2,250.30 379.9,250.78 380.6,251.23 381.3,251.67 382.0,252.09 382.8,252.50 383.5,252.88 384.2,253.25 384.9,253.60 385.6,253.93 386.3,254.25 387.0,254.55 387.8,254.83 388.5,255.10 389.2,255.35 389.9,255.59 390.6,255.81 391.3,256.03 392.0,256.23 392.8,256.42 393.5,256.60 394.2,256.77 394.9,256.93 395.6,257.08 396.3,257.22 397.1,257.36 397.8,257.49 398.5,257.61 399.2,257.73 399.9,257.83 400.6,257.94 401.3,258.04 402.1,258.13 402.8,258.22 403.5,258.30 404.2,258.38 404.9,258.45 405.6,258.52 406.4,258.59 407.1,258.65 407.8,258.71 408.5,258.76 409.2,258.81 409.9,258.86 410.6,258.91 411.4,258.95 412.1,259.00 412.8,259.03 413.5,259.07 414.2,259.11 414.9,259.14 415.6,259.17 416.4,259.20 417.1,259.23 417.8,259.26 418.5,259.28 419.2,259.31 419.9,259.33 420.7,259.36 421.4,259.38 422.1,259.40 422.8,259.42 423.5,259.44 424.2,259.46 424.9,259.48 425.7,259.50 426.4,259.52 427.1,259.54 427.8,259.55 428.5,259.57 429.2,259.59 429.9,259.60 430.7,259.60 431.4,259.60 432.1,259.60 432.8,259.60 433.5,259.60 434.2,259.60 435.0,259.60 435.7,259.60 436.4,259.60 437.1,259.60 437.8,259.60 438.5,259.60 439.2,259.60 440.0,259.60 440.7,259.60 441.4,259.60 442.1,259.60 442.8,259.60 443.5,259.60 444.2,259.60 445.0,259.60 445.7,259.60 446.4,259.60 447.1,259.60 447.8,259.60 448.5,259.60 449.3,259.60 450.0,259.60 450.7,259.60 451.4,259.60 452.1,259.60 452.8,259.60 453.5,259.60 454.3,259.60 455.0,259.60 455.7,259.60 456.4,259.60 457.1,259.60 457.8,259.60 458.5,259.60 459.3,259.60 460.0,259.60 460.7,259.60 461.4,259.60 462.1,259.60 462.8,259.60 463.6,259.60 464.3,259.60 465.0,259.60 465.7,259.60 465.70,259.90" fill="#fb9f98" stroke="none"/>
<polyline points="280.5,111.96 281.2,111.96 281.9,111.96 282.6,111.96 283.4,111.96 284.1,111.96 284.8,111.96 285.5,111.96 286.2,111.96 286.9,111.96 287.7,111.96 288.4,111.96 289.1,111.96 289.8,111.96 290.5,111.96 291.2,111.96 291.9,111.96 292.7,111.96 293.4,111.96 294.1,111.96 294.8,111.96 295.5,111.96 296.2,111.99 296.9,112.06 297.7,112.14 298.4,112.23 299.1,112.35 299.8,112.48 300.5,112.64 301.2,112.84 302.0,113.07 302.7,113.35 303.4,113.68 304.1,114.09 304.8,114.58 305.5,115.14 306.2,115.81 307.0,116.57 307.7,117.45 308.4,118.43 309.1,119.50 309.8,120.66 310.5,121.92 311.2,123.28 312.0,124.75 312.7,126.34 313.4,128.06 314.1,129.92 314.8,131.92 315.5,134.07 316.3,136.34 317.0,138.74 317.7,141.23 318.4,143.78 319.1,146.33 319.8,148.85 320.5,151.30 321.3,153.66 322.0,155.96 322.7,158.20 323.4,160.40 324.1,162.57 324.8,164.72 325.5,166.86 326.3,169.00 327.0,171.14 327.7,173.30 328.4,175.49 329.1,177.72 329.8,179.99 330.6,182.32 331.3,184.73 332.0,187.24 332.7,189.88 333.4,192.65 334.1,195.51 334.8,198.35 335.6,201.08 336.3,203.64 337.0,206.00 337.7,208.13 338.4,210.05 339.1,211.78 339.8,213.34 340.6,214.74 341.3,216.00 342.0,217.14 342.7,218.18 343.4,219.13 344.1,220.01 344.9,220.83 345.6,221.61 346.3,222.34 347.0,223.04 347.7,223.72 348.4,224.37 349.1,225.00 349.9,225.61 350.6,226.20 351.3,226.79 352.0,227.37 352.7,227.94 353.4,228.50 354.2,229.06 354.9,229.62 355.6,230.19 356.3,230.75 357.0,231.32 357.7,231.90 358.4,232.49 359.2,233.09 359.9,233.70 360.6,234.32 361.3,234.95 362.0,235.58 362.7,236.23 363.4,236.88 364.2,237.53 364.9,238.19 365.6,238.85 366.3,239.52 367.0,240.18 367.7,240.84 368.5,241.50 369.2,242.15 369.9,242.80 370.6,243.44 371.3,244.08 372.0,244.70 372.7,245.32 373.5,245.93 374.2,246.52 374.9,247.11 375.6,247.68 376.3,248.23 377.0,248.78 377.7,249.30 378.5,249.81 379.2,250.30 379.9,250.78 380.6,251.23 381.3,251.67 382.0,252.09 382.8,252.50 383.5,252.88 384.2,253.25 384.9,253.60 385.6,253.93 386.3,254.25 387.0,254.55 387.8,254.83 388.5,255.10 389.2,255.35 389.9,255.59 390.6,255.81 391.3,256.03 392.0,256.23 392.8,256.42 393.5,256.60 394.2,256.77 394.9,256.93 395.6,257.08 396.3,257.22 397.1,257.36 397.8,257.49 398.5,257.61 399.2,257.73 399.9,257.83 400.6,257.94 401.3,258.04 402.1,258.13 402.8,258.22 403.5,258.30 404.2,258.38 404.9,258.45 405.6,258.52 406.4,258.59 407.1,258.65 407.8,258.71 408.5,258.76 409.2,258.81 409.9,258.86 410.6,258.91 411.4,258.95 412.1,259.00 412.8,259.03 413.5,259.07 414.2,259.11 414.9,259.14 415.6,259.17 416.4,259.20 417.1,259.23 417.8,259.26 418.5,259.28 419.2,259.31 419.9,259.33 420.7,259.36 421.4,259.38 422.1,259.40 422.8,259.42 423.5,259.44 424.2,259.46 424.9,259.48 425.7,259.50" fill="none" stroke="#e31a1c" stroke-width="1.8" stroke-linejoin="round"/>
<polygon points="280.50,259.90 280.5,125.60 281.2,127.26 281.9,129.05 282.6,130.99 283.4,133.07 284.1,135.28 284.8,137.63 285.5,140.08 286.2,142.61 286.9,145.16 287.7,147.71 288.4,150.19 289.1,152.59 289.8,154.91 290.5,157.18 291.2,159.39 291.9,161.58 292.7,163.74 293.4,165.88 294.1,168.02 294.8,170.16 295.5,172.31 296.2,174.49 296.9,176.69 297.7,178.94 298.4,181.24 299.1,183.62 299.8,186.08 300.5,188.65 301.2,191.36 302.0,194.20 302.7,197.06 303.4,199.85 304.1,202.50 304.8,204.95 305.5,207.18 306.2,209.20 307.0,211.01 307.7,212.64 308.4,214.11 309.1,215.44 309.8,216.63 310.5,217.71 311.2,218.70 312.0,219.61 312.7,220.46 313.4,221.26 314.1,222.01 314.8,222.73 315.5,223.41 316.3,224.07 317.0,224.71 317.7,225.33 318.4,225.93 319.1,226.52 319.8,227.10 320.5,227.68 321.3,228.24 322.0,228.81 322.7,229.37 323.4,229.93 324.1,230.49 324.8,231.06 325.5,231.63 326.3,232.22 327.0,232.81 327.7,233.42 328.4,234.03 329.1,234.66 329.8,235.29 330.6,235.93 331.3,236.58 332.0,237.23 332.7,237.89 333.4,238.55 334.1,239.21 334.8,239.87 335.6,240.54 336.3,241.19 337.0,241.85 337.7,242.50 338.4,243.15 339.1,243.79 339.8,244.42 340.6,245.04 341.3,245.65 342.0,246.25 342.7,246.84 343.4,247.42 344.1,247.98 344.9,248.53 345.6,249.06 346.3,249.58 347.0,250.08 347.7,250.56 348.4,251.03 349.1,251.47 349.9,251.90 350.6,252.31 351.3,252.71 352.0,253.08 352.7,253.44 353.4,253.78 354.2,254.11 354.9,254.42 355.6,254.71 356.3,254.98 357.0,255.24 357.7,255.48 358.4,255.71 359.2,255.93 359.9,256.14 360.6,256.33 361.3,256.51 362.0,256.69 362.7,256.85 363.4,257.01 364.2,257.16 364.9,257.30 365.6,257.43 366.3,257.55 367.0,257.67 367.7,257.78 368.5,257.89 369.2,257.99 369.9,258.09 370.6,258.18 371.3,258.26 372.0,258.34 372.7,258.42 373.5,258.49 374.2,258.56 374.9,258.62 375.6,258.68 376.3,258.74 377.0,258.79 377.7,258.84 378.5,258.89 379.2,258.93 379.9,258.98 380.6,259.02 381.3,259.06 382.0,259.09 382.8,259.13 383.5,259.16 384.2,259.19 384.9,259.22 385.6,259.25 386.3,259.27 387.0,259.30 387.8,259.32 388.5,259.35 389.2,259.37 389.9,259.39 390.6,259.41 391.3,259.43 392.0,259.45 392.8,259.47 393.5,259.49 394.2,259.51 394.9,259.53 395.6,259.55 396.3,259.56 397.1,259.58 397.8,259.60 398.5,259.60 399.2,259.60 399.9,259.60 400.6,259.60 401.3,259.60 402.1,259.60 402.8,259.60 403.5,259.60 404.2,259.60 404.9,259.60 405.6,259.60 406.4,259.60 407.1,259.60 407.8,259.60 408.5,259.60 409.2,259.60 409.9,259.60 410.6,259.60 411.4,259.60 412.1,259.60 412.8,259.60 413.5,259.60 414.2,259.60 414.9,259.60 415.6,259.60 416.4,259.60 417.1,259.60 417.8,259.60 418.5,259.60 419.2,259.60 419.9,259.60 420.7,259.60 421.4,259.60 422.1,259.60 422.8,259.60 423.5,259.60 424.2,259.60 424.9,259.60 425.7,259.60 426.4,259.60 427.1,259.60 427.8,259.60 428.5,259.60 429.2,259.60 429.9,259.60 430.7,259.60 431.4,259.60 432.1,259.60 432.8,259.60 433.5,259.60 434.2,259.60 435.0,259.60 435.7,259.60 436.4,259.60 437.1,259.60 437.8,259.60 438.5,259.60 439.2,259.60 440.0,259.60 440.7,259.60 441.4,259.60 442.1,259.60 442.8,259.60 443.5,259.60 444.2,259.60 445.0,259.60 445.7,259.60 446.4,259.60 447.1,259.60 447.8,259.60 448.5,259.60 449.3,259.60 450.0,259.60 450.7,259.60 451.4,259.60 452.1,259.60 452.8,259.60 453.5,259.60 454.3,259.60 455.0,259.60 455.7,259.60 456.4,259.60 457.1,259.60 457.8,259.60 458.5,259.60 459.3,259.60 460.0,259.60 460.7,259.60 461.4,259.60 462.1,259.60 462.8,259.60 463.6,259.60 464.3,259.60 465.0,259.60 465.7,259.60 465.70,259.90" fill="#b9d98b" stroke="none"/>
<polyline points="280.5,125.60 281.2,127.26 281.9,129.05 282.6,130.99 283.4,133.07 284.1,135.28 284.8,137.63 285.5,140.08 286.2,142.61 286.9,145.16 287.7,147.71 288.4,150.19 289.1,152.59 289.8,154.91 290.5,157.18 291.2,159.39 291.9,161.58 292.7,163.74 293.4,165.88 294.1,168.02 294.8,170.16 295.5,172.31 296.2,174.49 296.9,176.69 297.7,178.94 298.4,181.24 299.1,183.62 299.8,186.08 300.5,188.65 301.2,191.36 302.0,194.20 302.7,197.06 303.4,199.85 304.1,202.50 304.8,204.95 305.5,207.18 306.2,209.20 307.0,211.01 307.7,212.64 308.4,214.11 309.1,215.44 309.8,216.63 310.5,217.71 311.2,218.70 312.0,219.61 312.7,220.46 313.4,221.26 314.1,222.01 314.8,222.73 315.5,223.41 316.3,224.07 317.0,224.71 317.7,225.33 318.4,225.93 319.1,226.52 319.8,227.10 320.5,227.68 321.3,228.24 322.0,228.81 322.7,229.37 323.4,229.93 324.1,230.49 324.8,231.06 325.5,231.63 326.3,232.22 327.0,232.81 327.7,233.42 328.4,234.03 329.1,234.66 329.8,235.29 330.6,235.93 331.3,236.58 332.0,237.23 332.7,237.89 333.4,238.55 334.1,239.21 334.8,239.87 335.6,240.54 336.3,241.19 337.0,241.85 337.7,242.50 338.4,243.15 339.1,243.79 339.8,244.42 340.6,245.04 341.3,245.65 342.0,246.25 342.7,246.84 343.4,247.42 344.1,247.98 344.9,248.53 345.6,249.06 346.3,249.58 347.0,250.08 347.7,250.56 348.4,251.03 349.1,251.47 349.9,251.90 350.6,252.31 351.3,252.71 352.0,253.08 352.7,253.44 353.4,253.78 354.2,254.11 354.9,254.42 355.6,254.71 356.3,254.98 357.0,255.24 357.7,255.48 358.4,255.71 359.2,255.93 359.9,256.14 360.6,256.33 361.3,256.51 362.0,256.69 362.7,256.85 363.4,257.01 364.2,257.16 364.9,257.30 365.6,257.43 366.3,257.55 367.0,257.67 367.7,257.78 368.5,257.89 369.2,257.99 369.9,258.09 370.6,258.18 371.3,258.26 372.0,258.34 372.7,258.42 373.5,258.49 374.2,258.56 374.9,258.62 375.6,258.68 376.3,258.74 377.0,258.79 377.7,258.84 378.5,258.89 379.2,258.93 379.9,258.98 380.6,259.02 381.3,259.06 382.0,259.09 382.8,259.13 383.5,259.16 384.2,259.19 384.9,259.22 385.6,259.25 386.3,259.27 387.0,259.30 387.8,259.32 388.5,259.35 389.2,259.37 389.9,259.39 390.6,259.41 391.3,259.43 392.0,259.45 392.8,259.47 393.5,259.49 394.2,259.51" fill="none" stroke="#33a02c" stroke-width="1.8" stroke-linejoin="round"/>
<polygon points="280.50,259.90 280.5,220.08 281.2,220.90 281.9,221.67 282.6,222.40 283.4,223.10 284.1,223.77 284.8,224.42 285.5,225.05 286.2,225.66 286.9,226.25 287.7,226.84 288.4,227.41 289.1,227.98 289.8,228.55 290.5,229.11 291.2,229.67 291.9,230.23 292.7,230.80 293.4,231.37 294.1,231.95 294.8,232.54 295.5,233.14 296.2,233.75 296.9,234.37 297.7,235.00 298.4,235.64 299.1,236.28 299.8,236.93 300.5,237.59 301.2,238.25 302.0,238.91 302.7,239.57 303.4,240.23 304.1,240.89 304.8,241.55 305.5,242.20 306.2,242.85 307.0,243.49 307.7,244.13 308.4,244.75 309.1,245.37 309.8,245.98 310.5,246.57 311.2,247.16 312.0,247.73 312.7,248.28 313.4,248.82 314.1,249.34 314.8,249.85 315.5,250.34 316.3,250.81 317.0,251.27 317.7,251.71 318.4,252.13 319.1,252.53 319.8,252.91 320.5,253.28 321.3,253.63 322.0,253.96 322.7,254.28 323.4,254.57 324.1,254.86 324.8,255.12 325.5,255.37 326.3,255.61 327.0,255.83 327.7,256.04 328.4,256.24 329.1,256.43 329.8,256.61 330.6,256.78 331.3,256.94 332.0,257.09 332.7,257.23 333.4,257.37 334.1,257.50 334.8,257.62 335.6,257.73 336.3,257.84 337.0,257.95 337.7,258.04 338.4,258.14 339.1,258.22 339.8,258.30 340.6,258.38 341.3,258.46 342.0,258.53 342.7,258.59 343.4,258.65 344.1,258.71 344.9,258.77 345.6,258.82 346.3,258.87 347.0,258.91 347.7,258.96 348.4,259.00 349.1,259.04 349.9,259.07 350.6,259.11 351.3,259.14 352.0,259.17 352.7,259.20 353.4,259.23 354.2,259.26 354.9,259.29 355.6,259.31 356.3,259.33 357.0,259.36 357.7,259.38 358.4,259.40 359.2,259.42 359.9,259.44 360.6,259.46 361.3,259.48 362.0,259.50 362.7,259.52 363.4,259.54 364.2,259.56 364.9,259.57 365.6,259.59 366.3,259.60 367.0,259.60 367.7,259.60 368.5,259.60 369.2,259.60 369.9,259.60 370.6,259.60 371.3,259.60 372.0,259.60 372.7,259.60 373.5,259.60 374.2,259.60 374.9,259.60 375.6,259.60 376.3,259.60 377.0,259.60 377.7,259.60 378.5,259.60 379.2,259.60 379.9,259.60 380.6,259.60 381.3,259.60 382.0,259.60 382.8,259.60 383.5,259.60 384.2,259.60 384.9,259.60 385.6,259.60 386.3,259.60 387.0,259.60 387.8,259.60 388.5,259.60 389.2,259.60 389.9,259.60 390.6,259.60 391.3,259.60 392.0,259.60 392.8,259.60 393.5,259.60 394.2,259.60 394.9,259.60 395.6,259.60 396.3,259.60 397.1,259.60 397.8,259.60 398.5,259.60 399.2,259.60 399.9,259.60 400.6,259.60 401.3,259.60 402.1,259.60 402.8,259.60 403.5,259.60 404.2,259.60 404.9,259.60 405.6,259.60 406.4,259.60 407.1,259.60 407.8,259.60 408.5,259.60 409.2,259.60 409.9,259.60 410.6,259.60 411.4,259.60 412.1,259.60 412.8,259.60 413.5,259.60 414.2,259.60 414.9,259.60 415.6,259.60 416.4,259.60 417.1,259.60 417.8,259.60 418.5,259.60 419.2,259.60 419.9,259.60 420.7,259.60 421.4,259.60 422.1,259.60 422.8,259.60 423.5,259.60 424.2,259.60 424.9,259.60 425.7,259.60 426.4,259.60 427.1,259.60 427.8,259.60 428.5,259.60 429.2,259.60 429.9,259.60 430.7,259.60 431.4,259.60 432.1,259.60 432.8,259.60 433.5,259.60 434.2,259.60 435.0,259.60 435.7,259.60 436.4,259.60 437.1,259.60 437.8,259.60 438.5,259.60 439.2,259.60 440.0,259.60 440.7,259.60 441.4,259.60 442.1,259.60 442.8,259.60 443.5,259.60 444.2,259.60 445.0,259.60 445.7,259.60 446.4,259.60 447.1,259.60 447.8,259.60 448.5,259.60 449.3,259.60 450.0,259.60 450.7,259.60 451.4,259.60 452.1,259.60 452.8,259.60 453.5,259.60 454.3,259.60 455.0,259.60 455.7,259.60 456.4,259.60 457.1,259.60 457.8,259.60 458.5,259.60 459.3,259.60 460.0,259.60 460.7,259.60 461.4,259.60 462.1,259.60 462.8,259.60 463.6,259.60 464.3,259.60 465.0,259.60 465.7,259.60 465.70,259.90" fill="#a9cfdb" stroke="none"/>
<polyline points="280.5,220.08 281.2,220.90 281.9,221.67 282.6,222.40 283.4,223.10 284.1,223.77 284.8,224.42 285.5,225.05 286.2,225.66 286.9,226.25 287.7,226.84 288.4,227.41 289.1,227.98 289.8,228.55 290.5,229.11 291.2,229.67 291.9,230.23 292.7,230.80 293.4,231.37 294.1,231.95 294.8,232.54 295.5,233.14 296.2,233.75 296.9,234.37 297.7,235.00 298.4,235.64 299.1,236.28 299.8,236.93 300.5,237.59 301.2,238.25 302.0,238.91 302.7,239.57 303.4,240.23 304.1,240.89 304.8,241.55 305.5,242.20 306.2,242.85 307.0,243.49 307.7,244.13 308.4,244.75 309.1,245.37 309.8,245.98 310.5,246.57 311.2,247.16 312.0,247.73 312.7,248.28 313.4,248.82 314.1,249.34 314.8,249.85 315.5,250.34 316.3,250.81 317.0,251.27 317.7,251.71 318.4,252.13 319.1,252.53 319.8,252.91 320.5,253.28 321.3,253.63 322.0,253.96 322.7,254.28 323.4,254.57 324.1,254.86 324.8,255.12 325.5,255.37 326.3,255.61 327.0,255.83 327.7,256.04 328.4,256.24 329.1,256.43 329.8,256.61 330.6,256.78 331.3,256.94 332.0,257.09 332.7,257.23 333.4,257.37 334.1,257.50 334.8,257.62 335.6,257.73 336.3,257.84 337.0,257.95 337.7,258.04 338.4,258.14 339.1,258.22 339.8,258.30 340.6,258.38 341.3,258.46 342.0,258.53 342.7,258.59 343.4,258.65 344.1,258.71 344.9,258.77 345.6,258.82 346.3,258.87 347.0,258.91 347.7,258.96 348.4,259.00 349.1,259.04 349.9,259.07 350.6,259.11 351.3,259.14 352.0,259.17 352.7,259.20 353.4,259.23 354.2,259.26 354.9,259.29 355.6,259.31 356.3,259.33 357.0,259.36 357.7,259.38 358.4,259.40 359.2,259.42 359.9,259.44 360.6,259.46 361.3,259.48 362.0,259.50 362.7,259.52 363.4,259.54 364.2,259.56 364.9,259.57 365.6,259.59 366.3,259.60 367.0,259.60 367.7,259.60 368.5,259.60 369.2,259.60 369.9,259.60 370.6,259.60 371.3,259.60 372.0,259.60 372.7,259.60 373.5,259.60 374.2,259.60 374.9,259.60 375.6,259.60 376.3,259.60 377.0,259.60 377.7,259.60 378.5,259.60 379.2,259.60 379.9,259.60 380.6,259.60 381.3,259.60 382.0,259.60 382.8,259.60 383.5,259.60 384.2,259.60 384.9,259.60 385.6,259.60 386.3,259.60 387.0,259.60 387.8,259.60 388.5,259.60 389.2,259.60 389.9,259.60 390.6,259.60 391.3,259.60 392.0,259.60 392.8,259.60 393.5,259.60 394.2,259.60 394.9,259.60 395.6,259.60 396.3,259.60 397.1,259.60 397.8,259.60 398.5,259.60 399.2,259.60 399.9,259.60 400.6,259.60 401.3,259.60 402.1,259.60 402.8,259.60 403.5,259.60 404.2,259.60 404.9,259.60 405.6,259.60 406.4,259.60 407.1,259.60 407.8,259.60 408.5,259.60 409.2,259.60 409.9,259.60 410.6,259.60 411.4,259.60 412.1,259.60 412.8,259.60 413.5,259.60 414.2,259.60 414.9,259.60 415.6,259.60 416.4,259.60 417.1,259.60 417.8,259.60 418.5,259.60 419.2,259.60 419.9,259.60 420.7,259.60 421.4,259.60 422.1,259.60 422.8,259.60 423.5,259.60 424.2,259.60 424.9,259.60 425.7,259.60 426.4,259.60 427.1,259.60 427.8,259.60 428.5,259.60 429.2,259.60 429.9,259.60 430.7,259.60 431.4,259.60 432.1,259.60 432.8,259.60 433.5,259.60 434.2,259.60 435.0,259.60 435.7,259.60 436.4,259.60 437.1,259.60 437.8,259.60 438.5,259.60 439.2,259.60 440.0,259.60 440.7,259.60 441.4,259.60 442.1,259.60 442.8,259.60 443.5,259.60 444.2,259.60 445.0,259.60 445.7,259.60 446.4,259.60 447.1,259.60 447.8,259.60 448.5,259.60 449.3,259.60 450.0,259.60 450.7,259.60 451.4,259.60 452.1,259.60 452.8,259.60 453.5,259.60 454.3,259.60 455.0,259.60 455.7,259.60 456.4,259.60 457.1,259.60 457.8,259.60 458.5,259.60 459.3,259.60 460.0,259.60 460.7,259.60 461.4,259.60 462.1,259.60 462.8,259.60 463.6,259.60 464.3,259.60 465.0,259.60 465.7,259.60" fill="none" stroke="#1f78b4" stroke-width="1.8" stroke-linejoin="round"/></g>
<clipPath id="cpc"><rect x="508.45" y="100" width="189.20" height="160.20"/></clipPath><g clip-path="url(#cpc)"><polygon points="510.45,259.90 510.4,112.01 511.2,112.01 511.9,112.01 512.6,112.01 513.3,112.01 514.0,112.01 514.7,112.01 515.5,112.01 516.2,112.01 516.9,112.01 517.6,112.01 518.3,112.01 519.0,112.01 519.7,112.01 520.5,112.01 521.2,112.01 521.9,112.01 522.6,112.01 523.3,112.01 524.0,112.01 524.8,112.01 525.5,112.01 526.2,112.01 526.9,112.01 527.6,112.01 528.3,112.01 529.0,112.01 529.8,112.01 530.5,112.01 531.2,112.01 531.9,112.01 532.6,112.01 533.3,112.01 534.0,112.01 534.8,112.01 535.5,112.01 536.2,112.01 536.9,112.01 537.6,112.01 538.3,112.01 539.1,112.01 539.8,112.01 540.5,112.01 541.2,112.01 541.9,112.01 542.6,112.01 543.3,112.01 544.1,112.01 544.8,112.01 545.5,112.01 546.2,112.01 546.9,112.01 547.6,112.01 548.3,112.02 549.1,112.02 549.8,112.02 550.5,112.03 551.2,112.03 551.9,112.04 552.6,112.04 553.4,112.04 554.1,112.05 554.8,112.05 555.5,112.05 556.2,112.05 556.9,112.05 557.6,112.05 558.4,112.05 559.1,112.05 559.8,112.05 560.5,112.05 561.2,112.05 561.9,112.05 562.6,112.05 563.4,112.05 564.1,112.05 564.8,112.05 565.5,112.05 566.2,112.05 566.9,112.05 567.7,112.05 568.4,112.05 569.1,112.05 569.8,112.05 570.5,112.05 571.2,112.05 571.9,112.05 572.7,112.05 573.4,112.05 574.1,112.05 574.8,112.05 575.5,112.05 576.2,112.05 577.0,112.05 577.7,112.05 578.4,112.11 579.1,112.19 579.8,112.28 580.5,112.40 581.2,112.54 582.0,112.70 582.7,112.90 583.4,113.12 584.1,113.38 584.8,113.68 585.5,114.03 586.2,114.43 587.0,114.90 587.7,115.46 588.4,116.12 589.1,116.92 589.8,117.89 590.5,119.07 591.3,120.44 592.0,121.93 592.7,123.43 593.4,124.83 594.1,126.13 594.8,127.38 595.5,128.60 596.3,129.83 597.0,131.09 597.7,132.42 598.4,133.88 599.1,135.53 599.8,137.54 600.5,140.13 601.3,143.18 602.0,146.08 602.7,148.40 603.4,150.19 604.1,151.68 604.8,153.05 605.6,154.37 606.3,155.71 607.0,157.15 607.7,158.78 608.4,160.68 609.1,162.88 609.8,165.46 610.6,168.41 611.3,171.67 612.0,175.01 612.7,178.17 613.4,180.95 614.1,183.12 614.8,184.71 615.6,185.89 616.3,186.79 617.0,187.51 617.7,188.15 618.4,188.77 619.1,189.42 619.9,190.14 620.6,190.99 621.3,191.99 622.0,193.18 622.7,194.59 623.4,196.28 624.1,198.30 624.9,200.68 625.6,203.35 626.3,206.13 627.0,208.76 627.7,211.15 628.4,213.33 629.1,215.33 629.9,217.17 630.6,218.87 631.3,220.46 632.0,221.93 632.7,223.29 633.4,224.47 634.2,225.46 634.9,226.26 635.6,226.90 636.3,227.41 637.0,227.81 637.7,228.12 638.4,228.35 639.2,228.51 639.9,228.62 640.6,228.70 641.3,228.75 642.0,228.81 642.7,228.86 643.5,228.93 644.2,229.02 644.9,229.15 645.6,229.32 646.3,229.53 647.0,229.78 647.7,230.07 648.5,230.40 649.2,230.77 649.9,231.15 650.6,231.57 651.3,232.01 652.0,232.48 652.7,232.97 653.5,233.49 654.2,234.03 654.9,234.60 655.6,235.20 656.3,235.81 657.0,236.45 657.8,237.11 658.5,237.78 659.2,238.47 659.9,239.17 660.6,239.88 661.3,240.59 662.0,241.31 662.8,242.03 663.5,242.74 664.2,243.44 664.9,244.13 665.6,244.80 666.3,245.46 667.0,246.10 667.8,246.72 668.5,247.31 669.2,247.88 669.9,248.43 670.6,248.95 671.3,249.44 672.1,249.91 672.8,250.36 673.5,250.79 674.2,251.19 674.9,251.58 675.6,251.95 676.3,252.30 677.1,252.64 677.8,252.96 678.5,253.27 679.2,253.57 679.9,253.85 680.6,254.13 681.3,254.39 682.1,254.64 682.8,254.88 683.5,255.11 684.2,255.33 684.9,255.54 685.6,255.74 686.4,255.94 687.1,256.12 687.8,256.30 688.5,256.48 689.2,256.64 689.9,256.80 690.6,256.95 691.4,257.10 692.1,257.24 692.8,257.38 693.5,257.50 694.2,257.63 694.9,257.75 695.6,257.86 695.65,259.90" fill="#fdbf6f" stroke="none"/>
<polyline points="510.4,112.01 511.2,112.01 511.9,112.01 512.6,112.01 513.3,112.01 514.0,112.01 514.7,112.01 515.5,112.01 516.2,112.01 516.9,112.01 517.6,112.01 518.3,112.01 519.0,112.01 519.7,112.01 520.5,112.01 521.2,112.01 521.9,112.01 522.6,112.01 523.3,112.01 524.0,112.01 524.8,112.01 525.5,112.01 526.2,112.01 526.9,112.01 527.6,112.01 528.3,112.01 529.0,112.01 529.8,112.01 530.5,112.01 531.2,112.01 531.9,112.01 532.6,112.01 533.3,112.01 534.0,112.01 534.8,112.01 535.5,112.01 536.2,112.01 536.9,112.01 537.6,112.01 538.3,112.01 539.1,112.01 539.8,112.01 540.5,112.01 541.2,112.01 541.9,112.01 542.6,112.01 543.3,112.01 544.1,112.01 544.8,112.01 545.5,112.01 546.2,112.01 546.9,112.01 547.6,112.01 548.3,112.02 549.1,112.02 549.8,112.02 550.5,112.03 551.2,112.03 551.9,112.04 552.6,112.04 553.4,112.04 554.1,112.05 554.8,112.05 555.5,112.05 556.2,112.05 556.9,112.05 557.6,112.05 558.4,112.05 559.1,112.05 559.8,112.05 560.5,112.05 561.2,112.05 561.9,112.05 562.6,112.05 563.4,112.05 564.1,112.05 564.8,112.05 565.5,112.05 566.2,112.05 566.9,112.05 567.7,112.05 568.4,112.05 569.1,112.05 569.8,112.05 570.5,112.05 571.2,112.05 571.9,112.05 572.7,112.05 573.4,112.05 574.1,112.05 574.8,112.05 575.5,112.05 576.2,112.05 577.0,112.05 577.7,112.05 578.4,112.11 579.1,112.19 579.8,112.28 580.5,112.40 581.2,112.54 582.0,112.70 582.7,112.90 583.4,113.12 584.1,113.38 584.8,113.68 585.5,114.03 586.2,114.43 587.0,114.90 587.7,115.46 588.4,116.12 589.1,116.92 589.8,117.89 590.5,119.07 591.3,120.44 592.0,121.93 592.7,123.43 593.4,124.83 594.1,126.13 594.8,127.38 595.5,128.60 596.3,129.83 597.0,131.09 597.7,132.42 598.4,133.88 599.1,135.53 599.8,137.54 600.5,140.13 601.3,143.18 602.0,146.08 602.7,148.40 603.4,150.19 604.1,151.68 604.8,153.05 605.6,154.37 606.3,155.71 607.0,157.15 607.7,158.78 608.4,160.68 609.1,162.88 609.8,165.46 610.6,168.41 611.3,171.67 612.0,175.01 612.7,178.17 613.4,180.95 614.1,183.12 614.8,184.71 615.6,185.89 616.3,186.79 617.0,187.51 617.7,188.15 618.4,188.77 619.1,189.42 619.9,190.14 620.6,190.99 621.3,191.99 622.0,193.18 622.7,194.59 623.4,196.28 624.1,198.30 624.9,200.68 625.6,203.35 626.3,206.13 627.0,208.76 627.7,211.15 628.4,213.33 629.1,215.33 629.9,217.17 630.6,218.87 631.3,220.46 632.0,221.93 632.7,223.29 633.4,224.47 634.2,225.46 634.9,226.26 635.6,226.90 636.3,227.41 637.0,227.81 637.7,228.12 638.4,228.35 639.2,228.51 639.9,228.62 640.6,228.70 641.3,228.75 642.0,228.81 642.7,228.86 643.5,228.93 644.2,229.02 644.9,229.15 645.6,229.32 646.3,229.53 647.0,229.78 647.7,230.07 648.5,230.40 649.2,230.77 649.9,231.15 650.6,231.57 651.3,232.01 652.0,232.48 652.7,232.97 653.5,233.49 654.2,234.03 654.9,234.60 655.6,235.20 656.3,235.81 657.0,236.45 657.8,237.11 658.5,237.78 659.2,238.47 659.9,239.17 660.6,239.88 661.3,240.59 662.0,241.31 662.8,242.03 663.5,242.74 664.2,243.44 664.9,244.13 665.6,244.80 666.3,245.46 667.0,246.10 667.8,246.72 668.5,247.31 669.2,247.88 669.9,248.43 670.6,248.95 671.3,249.44 672.1,249.91 672.8,250.36 673.5,250.79 674.2,251.19 674.9,251.58 675.6,251.95 676.3,252.30 677.1,252.64 677.8,252.96 678.5,253.27 679.2,253.57 679.9,253.85 680.6,254.13 681.3,254.39 682.1,254.64 682.8,254.88 683.5,255.11 684.2,255.33 684.9,255.54 685.6,255.74 686.4,255.94 687.1,256.12 687.8,256.30 688.5,256.48 689.2,256.64 689.9,256.80 690.6,256.95 691.4,257.10 692.1,257.24 692.8,257.38 693.5,257.50 694.2,257.63 694.9,257.75 695.6,257.86" fill="none" stroke="#ff7f00" stroke-width="1.8" stroke-linejoin="round"/>
<polygon points="510.45,259.90 510.4,112.01 511.2,112.01 511.9,112.01 512.6,112.01 513.3,112.01 514.0,112.01 514.7,112.01 515.5,112.01 516.2,112.02 516.9,112.02 517.6,112.02 518.3,112.03 519.0,112.03 519.7,112.03 520.5,112.04 521.2,112.04 521.9,112.04 522.6,112.05 523.3,112.05 524.0,112.05 524.8,112.05 525.5,112.05 526.2,112.05 526.9,112.05 527.6,112.05 528.3,112.05 529.0,112.05 529.8,112.05 530.5,112.05 531.2,112.05 531.9,112.05 532.6,112.05 533.3,112.05 534.0,112.05 534.8,112.05 535.5,112.05 536.2,112.05 536.9,112.05 537.6,112.05 538.3,112.05 539.1,112.05 539.8,112.05 540.5,112.05 541.2,112.05 541.9,112.05 542.6,112.05 543.3,112.05 544.1,112.05 544.8,112.05 545.5,112.05 546.2,112.08 546.9,112.15 547.6,112.24 548.3,112.34 549.1,112.47 549.8,112.62 550.5,112.80 551.2,113.01 551.9,113.26 552.6,113.54 553.4,113.86 554.1,114.24 554.8,114.68 555.5,115.19 556.2,115.80 556.9,116.53 557.6,117.42 558.4,118.51 559.1,119.79 559.8,121.24 560.5,122.75 561.2,124.21 561.9,125.55 562.6,126.81 563.4,128.04 564.1,129.26 564.8,130.51 565.5,131.80 566.2,133.19 566.9,134.74 567.7,136.55 568.4,138.87 569.1,141.76 569.8,144.81 570.5,147.42 571.2,149.42 571.9,151.02 572.7,152.43 573.4,153.77 574.1,155.09 574.8,156.47 575.5,158.01 576.2,159.77 577.0,161.83 577.7,164.23 578.4,167.01 579.1,170.15 579.8,173.48 580.5,176.75 581.2,179.74 582.0,182.21 582.7,184.04 583.4,185.40 584.1,186.41 584.8,187.19 585.5,187.86 586.2,188.49 587.0,189.12 587.7,189.80 588.4,190.59 589.1,191.51 589.8,192.61 590.5,193.91 591.3,195.47 592.0,197.33 592.7,199.55 593.4,202.10 594.1,204.86 594.8,207.58 595.5,210.08 596.3,212.35 597.0,214.43 597.7,216.34 598.4,218.11 599.1,219.75 599.8,221.27 600.5,222.68 601.3,223.95 602.0,225.03 602.7,225.91 603.4,226.62 604.1,227.19 604.8,227.64 605.6,227.99 606.3,228.25 607.0,228.44 607.7,228.57 608.4,228.66 609.1,228.73 609.8,228.78 610.6,228.83 611.3,228.89 612.0,228.97 612.7,229.08 613.4,229.24 614.1,229.43 614.8,229.66 615.6,229.93 616.3,230.25 617.0,230.60 617.7,230.97 618.4,231.38 619.1,231.81 619.9,232.26 620.6,232.74 621.3,233.25 622.0,233.78 622.7,234.34 623.4,234.92 624.1,235.53 624.9,236.15 625.6,236.80 626.3,237.47 627.0,238.15 627.7,238.85 628.4,239.55 629.1,240.27 629.9,240.98 630.6,241.70 631.3,242.41 632.0,243.12 632.7,243.81 633.4,244.49 634.2,245.16 634.9,245.81 635.6,246.44 636.3,247.04 637.0,247.62 637.7,248.18 638.4,248.71 639.2,249.22 639.9,249.70 640.6,250.16 641.3,250.59 642.0,251.01 642.7,251.40 643.5,251.78 644.2,252.14 644.9,252.49 645.6,252.82 646.3,253.13 647.0,253.44 647.7,253.72 648.5,254.00 649.2,254.27 649.9,254.52 650.6,254.77 651.3,255.00 652.0,255.23 652.7,255.44 653.5,255.65 654.2,255.85 654.9,256.04 655.6,256.22 656.3,256.40 657.0,256.57 657.8,256.73 658.5,256.89 659.2,257.03 659.9,257.18 660.6,257.31 661.3,257.45 662.0,257.57 662.8,257.69 663.5,257.81 664.2,257.92 664.9,258.03 665.6,258.13 666.3,258.22 667.0,258.32 667.8,258.41 668.5,258.49 669.2,258.57 669.9,258.65 670.6,258.72 671.3,258.79 672.1,258.86 672.8,258.92 673.5,258.98 674.2,259.04 674.9,259.09 675.6,259.15 676.3,259.19 677.1,259.24 677.8,259.28 678.5,259.33 679.2,259.36 679.9,259.40 680.6,259.44 681.3,259.47 682.1,259.50 682.8,259.53 683.5,259.55 684.2,259.58 684.9,259.60 685.6,259.60 686.4,259.60 687.1,259.60 687.8,259.60 688.5,259.60 689.2,259.60 689.9,259.60 690.6,259.60 691.4,259.60 692.1,259.60 692.8,259.60 693.5,259.60 694.2,259.60 694.9,259.60 695.6,259.60 695.65,259.90" fill="#fb9a99" stroke="none"/>
<polyline points="510.4,112.01 511.2,112.01 511.9,112.01 512.6,112.01 513.3,112.01 514.0,112.01 514.7,112.01 515.5,112.01 516.2,112.02 516.9,112.02 517.6,112.02 518.3,112.03 519.0,112.03 519.7,112.03 520.5,112.04 521.2,112.04 521.9,112.04 522.6,112.05 523.3,112.05 524.0,112.05 524.8,112.05 525.5,112.05 526.2,112.05 526.9,112.05 527.6,112.05 528.3,112.05 529.0,112.05 529.8,112.05 530.5,112.05 531.2,112.05 531.9,112.05 532.6,112.05 533.3,112.05 534.0,112.05 534.8,112.05 535.5,112.05 536.2,112.05 536.9,112.05 537.6,112.05 538.3,112.05 539.1,112.05 539.8,112.05 540.5,112.05 541.2,112.05 541.9,112.05 542.6,112.05 543.3,112.05 544.1,112.05 544.8,112.05 545.5,112.05 546.2,112.08 546.9,112.15 547.6,112.24 548.3,112.34 549.1,112.47 549.8,112.62 550.5,112.80 551.2,113.01 551.9,113.26 552.6,113.54 553.4,113.86 554.1,114.24 554.8,114.68 555.5,115.19 556.2,115.80 556.9,116.53 557.6,117.42 558.4,118.51 559.1,119.79 559.8,121.24 560.5,122.75 561.2,124.21 561.9,125.55 562.6,126.81 563.4,128.04 564.1,129.26 564.8,130.51 565.5,131.80 566.2,133.19 566.9,134.74 567.7,136.55 568.4,138.87 569.1,141.76 569.8,144.81 570.5,147.42 571.2,149.42 571.9,151.02 572.7,152.43 573.4,153.77 574.1,155.09 574.8,156.47 575.5,158.01 576.2,159.77 577.0,161.83 577.7,164.23 578.4,167.01 579.1,170.15 579.8,173.48 580.5,176.75 581.2,179.74 582.0,182.21 582.7,184.04 583.4,185.40 584.1,186.41 584.8,187.19 585.5,187.86 586.2,188.49 587.0,189.12 587.7,189.80 588.4,190.59 589.1,191.51 589.8,192.61 590.5,193.91 591.3,195.47 592.0,197.33 592.7,199.55 593.4,202.10 594.1,204.86 594.8,207.58 595.5,210.08 596.3,212.35 597.0,214.43 597.7,216.34 598.4,218.11 599.1,219.75 599.8,221.27 600.5,222.68 601.3,223.95 602.0,225.03 602.7,225.91 603.4,226.62 604.1,227.19 604.8,227.64 605.6,227.99 606.3,228.25 607.0,228.44 607.7,228.57 608.4,228.66 609.1,228.73 609.8,228.78 610.6,228.83 611.3,228.89 612.0,228.97 612.7,229.08 613.4,229.24 614.1,229.43 614.8,229.66 615.6,229.93 616.3,230.25 617.0,230.60 617.7,230.97 618.4,231.38 619.1,231.81 619.9,232.26 620.6,232.74 621.3,233.25 622.0,233.78 622.7,234.34 623.4,234.92 624.1,235.53 624.9,236.15 625.6,236.80 626.3,237.47 627.0,238.15 627.7,238.85 628.4,239.55 629.1,240.27 629.9,240.98 630.6,241.70 631.3,242.41 632.0,243.12 632.7,243.81 633.4,244.49 634.2,245.16 634.9,245.81 635.6,246.44 636.3,247.04 637.0,247.62 637.7,248.18 638.4,248.71 639.2,249.22 639.9,249.70 640.6,250.16 641.3,250.59 642.0,251.01 642.7,251.40 643.5,251.78 644.2,252.14 644.9,252.49 645.6,252.82 646.3,253.13 647.0,253.44 647.7,253.72 648.5,254.00 649.2,254.27 649.9,254.52 650.6,254.77 651.3,255.00 652.0,255.23 652.7,255.44 653.5,255.65 654.2,255.85 654.9,256.04 655.6,256.22 656.3,256.40 657.0,256.57 657.8,256.73 658.5,256.89 659.2,257.03 659.9,257.18 660.6,257.31 661.3,257.45 662.0,257.57 662.8,257.69 663.5,257.81 664.2,257.92 664.9,258.03 665.6,258.13 666.3,258.22 667.0,258.32 667.8,258.41 668.5,258.49 669.2,258.57 669.9,258.65 670.6,258.72 671.3,258.79 672.1,258.86 672.8,258.92 673.5,258.98 674.2,259.04 674.9,259.09 675.6,259.15 676.3,259.19 677.1,259.24 677.8,259.28 678.5,259.33 679.2,259.36 679.9,259.40 680.6,259.44 681.3,259.47 682.1,259.50 682.8,259.53" fill="none" stroke="#e31a1c" stroke-width="1.8" stroke-linejoin="round"/>
<polygon points="510.45,259.90 510.4,112.05 511.2,112.05 511.9,112.05 512.6,112.05 513.3,112.05 514.0,112.05 514.7,112.11 515.5,112.19 516.2,112.29 516.9,112.41 517.6,112.55 518.3,112.72 519.0,112.91 519.7,113.14 520.5,113.40 521.2,113.71 521.9,114.06 522.6,114.47 523.3,114.95 524.0,115.51 524.8,116.18 525.5,116.99 526.2,117.98 526.9,119.18 527.6,120.56 528.3,122.06 529.0,123.56 529.8,124.94 530.5,126.24 531.2,127.48 531.9,128.70 532.6,129.93 533.3,131.20 534.0,132.54 534.8,134.01 535.5,135.68 536.2,137.73 536.9,140.37 537.6,143.44 538.3,146.30 539.1,148.57 539.8,150.32 540.5,151.80 541.2,153.16 541.9,154.48 542.6,155.83 543.3,157.28 544.1,158.93 544.8,160.85 545.5,163.08 546.2,165.69 546.9,168.68 547.6,171.95 548.3,175.28 549.1,178.42 549.8,181.16 550.5,183.27 551.2,184.83 551.9,185.98 552.6,186.85 553.4,187.57 554.1,188.21 554.8,188.83 555.5,189.48 556.2,190.21 556.9,191.07 557.6,192.08 558.4,193.29 559.1,194.72 559.8,196.44 560.5,198.49 561.2,200.89 561.9,203.58 562.6,206.36 563.4,208.97 564.1,211.34 564.8,213.50 565.5,215.49 566.2,217.32 566.9,219.01 567.7,220.58 568.4,222.05 569.1,223.39 569.8,224.56 570.5,225.53 571.2,226.32 571.9,226.95 572.7,227.45 573.4,227.84 574.1,228.14 574.8,228.36 575.5,228.52 576.2,228.63 577.0,228.70 577.7,228.76 578.4,228.81 579.1,228.86 579.8,228.93 580.5,229.03 581.2,229.16 582.0,229.33 582.7,229.55 583.4,229.80 584.1,230.10 584.8,230.43 585.5,230.80 586.2,231.19 587.0,231.61 587.7,232.05 588.4,232.52 589.1,233.01 589.8,233.53 590.5,234.08 591.3,234.65 592.0,235.25 592.7,235.86 593.4,236.50 594.1,237.16 594.8,237.84 595.5,238.53 596.3,239.23 597.0,239.94 597.7,240.65 598.4,241.37 599.1,242.09 599.8,242.79 600.5,243.50 601.3,244.18 602.0,244.86 602.7,245.51 603.4,246.15 604.1,246.77 604.8,247.36 605.6,247.93 606.3,248.47 607.0,248.99 607.7,249.48 608.4,249.95 609.1,250.40 609.8,250.82 610.6,251.22 611.3,251.61 612.0,251.98 612.7,252.33 613.4,252.67 614.1,252.99 614.8,253.30 615.6,253.59 616.3,253.88 617.0,254.15 617.7,254.41 618.4,254.66 619.1,254.90 619.9,255.13 620.6,255.35 621.3,255.56 622.0,255.76 622.7,255.95 623.4,256.14 624.1,256.32 624.9,256.49 625.6,256.66 626.3,256.81 627.0,256.97 627.7,257.11 628.4,257.25 629.1,257.39 629.9,257.51 630.6,257.64 631.3,257.76 632.0,257.87 632.7,257.98 633.4,258.08 634.2,258.18 634.9,258.28 635.6,258.37 636.3,258.45 637.0,258.53 637.7,258.61 638.4,258.69 639.2,258.76 639.9,258.83 640.6,258.89 641.3,258.96 642.0,259.01 642.7,259.07 643.5,259.12 644.2,259.17 644.9,259.22 645.6,259.26 646.3,259.31 647.0,259.35 647.7,259.38 648.5,259.42 649.2,259.45 649.9,259.48 650.6,259.51 651.3,259.54 652.0,259.57 652.7,259.59 653.5,259.60 654.2,259.60 654.9,259.60 655.6,259.60 656.3,259.60 657.0,259.60 657.8,259.60 658.5,259.60 659.2,259.60 659.9,259.60 660.6,259.60 661.3,259.60 662.0,259.60 662.8,259.60 663.5,259.60 664.2,259.60 664.9,259.60 665.6,259.60 666.3,259.60 667.0,259.60 667.8,259.60 668.5,259.60 669.2,259.60 669.9,259.60 670.6,259.60 671.3,259.60 672.1,259.60 672.8,259.60 673.5,259.60 674.2,259.60 674.9,259.60 675.6,259.60 676.3,259.60 677.1,259.60 677.8,259.60 678.5,259.60 679.2,259.60 679.9,259.60 680.6,259.60 681.3,259.60 682.1,259.60 682.8,259.60 683.5,259.60 684.2,259.60 684.9,259.60 685.6,259.60 686.4,259.60 687.1,259.60 687.8,259.60 688.5,259.60 689.2,259.60 689.9,259.60 690.6,259.60 691.4,259.60 692.1,259.60 692.8,259.60 693.5,259.60 694.2,259.60 694.9,259.60 695.6,259.60 695.65,259.90" fill="#b2df8a" stroke="none"/>
<polyline points="510.4,112.05 511.2,112.05 511.9,112.05 512.6,112.05 513.3,112.05 514.0,112.05 514.7,112.11 515.5,112.19 516.2,112.29 516.9,112.41 517.6,112.55 518.3,112.72 519.0,112.91 519.7,113.14 520.5,113.40 521.2,113.71 521.9,114.06 522.6,114.47 523.3,114.95 524.0,115.51 524.8,116.18 525.5,116.99 526.2,117.98 526.9,119.18 527.6,120.56 528.3,122.06 529.0,123.56 529.8,124.94 530.5,126.24 531.2,127.48 531.9,128.70 532.6,129.93 533.3,131.20 534.0,132.54 534.8,134.01 535.5,135.68 536.2,137.73 536.9,140.37 537.6,143.44 538.3,146.30 539.1,148.57 539.8,150.32 540.5,151.80 541.2,153.16 541.9,154.48 542.6,155.83 543.3,157.28 544.1,158.93 544.8,160.85 545.5,163.08 546.2,165.69 546.9,168.68 547.6,171.95 548.3,175.28 549.1,178.42 549.8,181.16 550.5,183.27 551.2,184.83 551.9,185.98 552.6,186.85 553.4,187.57 554.1,188.21 554.8,188.83 555.5,189.48 556.2,190.21 556.9,191.07 557.6,192.08 558.4,193.29 559.1,194.72 559.8,196.44 560.5,198.49 561.2,200.89 561.9,203.58 562.6,206.36 563.4,208.97 564.1,211.34 564.8,213.50 565.5,215.49 566.2,217.32 566.9,219.01 567.7,220.58 568.4,222.05 569.1,223.39 569.8,224.56 570.5,225.53 571.2,226.32 571.9,226.95 572.7,227.45 573.4,227.84 574.1,228.14 574.8,228.36 575.5,228.52 576.2,228.63 577.0,228.70 577.7,228.76 578.4,228.81 579.1,228.86 579.8,228.93 580.5,229.03 581.2,229.16 582.0,229.33 582.7,229.55 583.4,229.80 584.1,230.10 584.8,230.43 585.5,230.80 586.2,231.19 587.0,231.61 587.7,232.05 588.4,232.52 589.1,233.01 589.8,233.53 590.5,234.08 591.3,234.65 592.0,235.25 592.7,235.86 593.4,236.50 594.1,237.16 594.8,237.84 595.5,238.53 596.3,239.23 597.0,239.94 597.7,240.65 598.4,241.37 599.1,242.09 599.8,242.79 600.5,243.50 601.3,244.18 602.0,244.86 602.7,245.51 603.4,246.15 604.1,246.77 604.8,247.36 605.6,247.93 606.3,248.47 607.0,248.99 607.7,249.48 608.4,249.95 609.1,250.40 609.8,250.82 610.6,251.22 611.3,251.61 612.0,251.98 612.7,252.33 613.4,252.67 614.1,252.99 614.8,253.30 615.6,253.59 616.3,253.88 617.0,254.15 617.7,254.41 618.4,254.66 619.1,254.90 619.9,255.13 620.6,255.35 621.3,255.56 622.0,255.76 622.7,255.95 623.4,256.14 624.1,256.32 624.9,256.49 625.6,256.66 626.3,256.81 627.0,256.97 627.7,257.11 628.4,257.25 629.1,257.39 629.9,257.51 630.6,257.64 631.3,257.76 632.0,257.87 632.7,257.98 633.4,258.08 634.2,258.18 634.9,258.28 635.6,258.37 636.3,258.45 637.0,258.53 637.7,258.61 638.4,258.69 639.2,258.76 639.9,258.83 640.6,258.89 641.3,258.96 642.0,259.01 642.7,259.07 643.5,259.12 644.2,259.17 644.9,259.22 645.6,259.26 646.3,259.31 647.0,259.35 647.7,259.38 648.5,259.42 649.2,259.45 649.9,259.48 650.6,259.51" fill="none" stroke="#33a02c" stroke-width="1.8" stroke-linejoin="round"/>
<polygon points="510.45,259.90 510.4,155.20 511.2,156.59 511.9,158.14 512.6,159.93 513.3,162.02 514.0,164.45 514.7,167.27 515.5,170.43 516.2,173.76 516.9,177.02 517.6,179.97 518.3,182.38 519.0,184.17 519.7,185.49 520.5,186.48 521.2,187.25 521.9,187.92 522.6,188.54 523.3,189.17 524.0,189.86 524.8,190.66 525.5,191.60 526.2,192.71 526.9,194.03 527.6,195.61 528.3,197.51 529.0,199.75 529.8,202.33 530.5,205.09 531.2,207.80 531.9,210.28 532.6,212.53 533.3,214.60 534.0,216.50 534.8,218.25 535.5,219.88 536.2,221.39 536.9,222.80 537.6,224.05 538.3,225.11 539.1,225.98 539.8,226.68 540.5,227.23 541.2,227.67 541.9,228.01 542.6,228.27 543.3,228.45 544.1,228.58 544.8,228.67 545.5,228.73 546.2,228.79 546.9,228.84 547.6,228.90 548.3,228.98 549.1,229.10 549.8,229.25 550.5,229.44 551.2,229.68 551.9,229.96 552.6,230.27 553.4,230.63 554.1,231.01 554.8,231.41 555.5,231.84 556.2,232.30 556.9,232.78 557.6,233.29 558.4,233.83 559.1,234.39 559.8,234.97 560.5,235.58 561.2,236.21 561.9,236.86 562.6,237.53 563.4,238.21 564.1,238.91 564.8,239.61 565.5,240.33 566.2,241.04 566.9,241.76 567.7,242.47 568.4,243.18 569.1,243.87 569.8,244.55 570.5,245.22 571.2,245.86 571.9,246.49 572.7,247.09 573.4,247.67 574.1,248.23 574.8,248.76 575.5,249.26 576.2,249.74 577.0,250.20 577.7,250.63 578.4,251.04 579.1,251.44 579.8,251.81 580.5,252.17 581.2,252.52 582.0,252.84 582.7,253.16 583.4,253.46 584.1,253.75 584.8,254.02 585.5,254.29 586.2,254.54 587.0,254.79 587.7,255.02 588.4,255.25 589.1,255.46 589.8,255.67 590.5,255.87 591.3,256.06 592.0,256.24 592.7,256.41 593.4,256.58 594.1,256.74 594.8,256.90 595.5,257.05 596.3,257.19 597.0,257.33 597.7,257.46 598.4,257.58 599.1,257.70 599.8,257.82 600.5,257.93 601.3,258.03 602.0,258.14 602.7,258.23 603.4,258.32 604.1,258.41 604.8,258.50 605.6,258.58 606.3,258.65 607.0,258.73 607.7,258.80 608.4,258.86 609.1,258.93 609.8,258.99 610.6,259.04 611.3,259.10 612.0,259.15 612.7,259.20 613.4,259.24 614.1,259.29 614.8,259.33 615.6,259.37 616.3,259.40 617.0,259.44 617.7,259.47 618.4,259.50 619.1,259.53 619.9,259.56 620.6,259.58 621.3,259.60 622.0,259.60 622.7,259.60 623.4,259.60 624.1,259.60 624.9,259.60 625.6,259.60 626.3,259.60 627.0,259.60 627.7,259.60 628.4,259.60 629.1,259.60 629.9,259.60 630.6,259.60 631.3,259.60 632.0,259.60 632.7,259.60 633.4,259.60 634.2,259.60 634.9,259.60 635.6,259.60 636.3,259.60 637.0,259.60 637.7,259.60 638.4,259.60 639.2,259.60 639.9,259.60 640.6,259.60 641.3,259.60 642.0,259.60 642.7,259.60 643.5,259.60 644.2,259.60 644.9,259.60 645.6,259.60 646.3,259.60 647.0,259.60 647.7,259.60 648.5,259.60 649.2,259.60 649.9,259.60 650.6,259.60 651.3,259.60 652.0,259.60 652.7,259.60 653.5,259.60 654.2,259.60 654.9,259.60 655.6,259.60 656.3,259.60 657.0,259.60 657.8,259.60 658.5,259.60 659.2,259.60 659.9,259.60 660.6,259.60 661.3,259.60 662.0,259.60 662.8,259.60 663.5,259.60 664.2,259.60 664.9,259.60 665.6,259.60 666.3,259.60 667.0,259.60 667.8,259.60 668.5,259.60 669.2,259.60 669.9,259.60 670.6,259.60 671.3,259.60 672.1,259.60 672.8,259.60 673.5,259.60 674.2,259.60 674.9,259.60 675.6,259.60 676.3,259.60 677.1,259.60 677.8,259.60 678.5,259.60 679.2,259.60 679.9,259.60 680.6,259.60 681.3,259.60 682.1,259.60 682.8,259.60 683.5,259.60 684.2,259.60 684.9,259.60 685.6,259.60 686.4,259.60 687.1,259.60 687.8,259.60 688.5,259.60 689.2,259.60 689.9,259.60 690.6,259.60 691.4,259.60 692.1,259.60 692.8,259.60 693.5,259.60 694.2,259.60 694.9,259.60 695.6,259.60 695.65,259.90" fill="#a6cee3" stroke="none"/>
<polyline points="510.4,155.20 511.2,156.59 511.9,158.14 512.6,159.93 513.3,162.02 514.0,164.45 514.7,167.27 515.5,170.43 516.2,173.76 516.9,177.02 517.6,179.97 518.3,182.38 519.0,184.17 519.7,185.49 520.5,186.48 521.2,187.25 521.9,187.92 522.6,188.54 523.3,189.17 524.0,189.86 524.8,190.66 525.5,191.60 526.2,192.71 526.9,194.03 527.6,195.61 528.3,197.51 529.0,199.75 529.8,202.33 530.5,205.09 531.2,207.80 531.9,210.28 532.6,212.53 533.3,214.60 534.0,216.50 534.8,218.25 535.5,219.88 536.2,221.39 536.9,222.80 537.6,224.05 538.3,225.11 539.1,225.98 539.8,226.68 540.5,227.23 541.2,227.67 541.9,228.01 542.6,228.27 543.3,228.45 544.1,228.58 544.8,228.67 545.5,228.73 546.2,228.79 546.9,228.84 547.6,228.90 548.3,228.98 549.1,229.10 549.8,229.25 550.5,229.44 551.2,229.68 551.9,229.96 552.6,230.27 553.4,230.63 554.1,231.01 554.8,231.41 555.5,231.84 556.2,232.30 556.9,232.78 557.6,233.29 558.4,233.83 559.1,234.39 559.8,234.97 560.5,235.58 561.2,236.21 561.9,236.86 562.6,237.53 563.4,238.21 564.1,238.91 564.8,239.61 565.5,240.33 566.2,241.04 566.9,241.76 567.7,242.47 568.4,243.18 569.1,243.87 569.8,244.55 570.5,245.22 571.2,245.86 571.9,246.49 572.7,247.09 573.4,247.67 574.1,248.23 574.8,248.76 575.5,249.26 576.2,249.74 577.0,250.20 577.7,250.63 578.4,251.04 579.1,251.44 579.8,251.81 580.5,252.17 581.2,252.52 582.0,252.84 582.7,253.16 583.4,253.46 584.1,253.75 584.8,254.02 585.5,254.29 586.2,254.54 587.0,254.79 587.7,255.02 588.4,255.25 589.1,255.46 589.8,255.67 590.5,255.87 591.3,256.06 592.0,256.24 592.7,256.41 593.4,256.58 594.1,256.74 594.8,256.90 595.5,257.05 596.3,257.19 597.0,257.33 597.7,257.46 598.4,257.58 599.1,257.70 599.8,257.82 600.5,257.93 601.3,258.03 602.0,258.14 602.7,258.23 603.4,258.32 604.1,258.41 604.8,258.50 605.6,258.58 606.3,258.65 607.0,258.73 607.7,258.80 608.4,258.86 609.1,258.93 609.8,258.99 610.6,259.04 611.3,259.10 612.0,259.15 612.7,259.20 613.4,259.24 614.1,259.29 614.8,259.33 615.6,259.37 616.3,259.40 617.0,259.44 617.7,259.47 618.4,259.50 619.1,259.53 619.9,259.56 620.6,259.58 621.3,259.60 622.0,259.60 622.7,259.60 623.4,259.60 624.1,259.60 624.9,259.60 625.6,259.60 626.3,259.60 627.0,259.60 627.7,259.60 628.4,259.60 629.1,259.60 629.9,259.60 630.6,259.60 631.3,259.60 632.0,259.60 632.7,259.60 633.4,259.60 634.2,259.60 634.9,259.60 635.6,259.60 636.3,259.60 637.0,259.60 637.7,259.60 638.4,259.60 639.2,259.60 639.9,259.60 640.6,259.60 641.3,259.60 642.0,259.60 642.7,259.60 643.5,259.60 644.2,259.60 644.9,259.60 645.6,259.60 646.3,259.60 647.0,259.60 647.7,259.60 648.5,259.60 649.2,259.60 649.9,259.60 650.6,259.60 651.3,259.60 652.0,259.60 652.7,259.60 653.5,259.60 654.2,259.60 654.9,259.60 655.6,259.60 656.3,259.60 657.0,259.60 657.8,259.60 658.5,259.60 659.2,259.60 659.9,259.60 660.6,259.60 661.3,259.60 662.0,259.60 662.8,259.60 663.5,259.60 664.2,259.60 664.9,259.60 665.6,259.60 666.3,259.60 667.0,259.60 667.8,259.60 668.5,259.60 669.2,259.60 669.9,259.60 670.6,259.60 671.3,259.60 672.1,259.60 672.8,259.60 673.5,259.60 674.2,259.60 674.9,259.60 675.6,259.60 676.3,259.60 677.1,259.60 677.8,259.60 678.5,259.60 679.2,259.60 679.9,259.60 680.6,259.60 681.3,259.60 682.1,259.60 682.8,259.60 683.5,259.60 684.2,259.60 684.9,259.60 685.6,259.60 686.4,259.60 687.1,259.60 687.8,259.60 688.5,259.60 689.2,259.60 689.9,259.60 690.6,259.60 691.4,259.60 692.1,259.60 692.8,259.60 693.5,259.60 694.2,259.60 694.9,259.60 695.6,259.60" fill="none" stroke="#1f78b4" stroke-width="1.8" stroke-linejoin="round"/></g>
<line x1="49.35" y1="111.4" x2="49.35" y2="260.3" stroke="#4a4a4a" stroke-width="0.8"/>
<line x1="49.35" y1="260.3" x2="234.55" y2="260.3" stroke="#4a4a4a" stroke-width="0.8"/>
<line x1="46.55" y1="260.30" x2="49.35" y2="260.30" stroke="#222" stroke-width="0.75"/>
<line x1="47.65" y1="230.52" x2="49.35" y2="230.52" stroke="#222" stroke-width="0.75"/>
<line x1="47.65" y1="200.74" x2="49.35" y2="200.74" stroke="#222" stroke-width="0.75"/>
<line x1="47.65" y1="170.96" x2="49.35" y2="170.96" stroke="#222" stroke-width="0.75"/>
<line x1="47.65" y1="141.18" x2="49.35" y2="141.18" stroke="#222" stroke-width="0.75"/>
<line x1="46.55" y1="111.40" x2="49.35" y2="111.40" stroke="#222" stroke-width="0.75"/>
<line x1="49.35" y1="260.3" x2="49.35" y2="263.10" stroke="#222" stroke-width="0.75"/>
<line x1="58.97" y1="260.3" x2="58.97" y2="261.90" stroke="#222" stroke-width="0.75"/>
<line x1="64.59" y1="260.3" x2="64.59" y2="261.90" stroke="#222" stroke-width="0.75"/>
<line x1="68.59" y1="260.3" x2="68.59" y2="261.90" stroke="#222" stroke-width="0.75"/>
<line x1="71.68" y1="260.3" x2="71.68" y2="261.90" stroke="#222" stroke-width="0.75"/>
<line x1="74.21" y1="260.3" x2="74.21" y2="261.90" stroke="#222" stroke-width="0.75"/>
<line x1="76.35" y1="260.3" x2="76.35" y2="261.90" stroke="#222" stroke-width="0.75"/>
<line x1="78.20" y1="260.3" x2="78.20" y2="261.90" stroke="#222" stroke-width="0.75"/>
<line x1="79.84" y1="260.3" x2="79.84" y2="261.90" stroke="#222" stroke-width="0.75"/>
<line x1="81.30" y1="260.3" x2="81.30" y2="263.10" stroke="#222" stroke-width="0.75"/>
<line x1="90.92" y1="260.3" x2="90.92" y2="261.90" stroke="#222" stroke-width="0.75"/>
<line x1="96.54" y1="260.3" x2="96.54" y2="261.90" stroke="#222" stroke-width="0.75"/>
<line x1="100.54" y1="260.3" x2="100.54" y2="261.90" stroke="#222" stroke-width="0.75"/>
<line x1="103.63" y1="260.3" x2="103.63" y2="261.90" stroke="#222" stroke-width="0.75"/>
<line x1="106.16" y1="260.3" x2="106.16" y2="261.90" stroke="#222" stroke-width="0.75"/>
<line x1="108.30" y1="260.3" x2="108.30" y2="261.90" stroke="#222" stroke-width="0.75"/>
<line x1="110.15" y1="260.3" x2="110.15" y2="261.90" stroke="#222" stroke-width="0.75"/>
<line x1="111.79" y1="260.3" x2="111.79" y2="261.90" stroke="#222" stroke-width="0.75"/>
<line x1="113.25" y1="260.3" x2="113.25" y2="263.10" stroke="#222" stroke-width="0.75"/>
<line x1="122.87" y1="260.3" x2="122.87" y2="261.90" stroke="#222" stroke-width="0.75"/>
<line x1="128.49" y1="260.3" x2="128.49" y2="261.90" stroke="#222" stroke-width="0.75"/>
<line x1="132.49" y1="260.3" x2="132.49" y2="261.90" stroke="#222" stroke-width="0.75"/>
<line x1="135.58" y1="260.3" x2="135.58" y2="261.90" stroke="#222" stroke-width="0.75"/>
<line x1="138.11" y1="260.3" x2="138.11" y2="261.90" stroke="#222" stroke-width="0.75"/>
<line x1="140.25" y1="260.3" x2="140.25" y2="261.90" stroke="#222" stroke-width="0.75"/>
<line x1="142.10" y1="260.3" x2="142.10" y2="261.90" stroke="#222" stroke-width="0.75"/>
<line x1="143.74" y1="260.3" x2="143.74" y2="261.90" stroke="#222" stroke-width="0.75"/>
<line x1="145.20" y1="260.3" x2="145.20" y2="263.10" stroke="#222" stroke-width="0.75"/>
<line x1="154.82" y1="260.3" x2="154.82" y2="261.90" stroke="#222" stroke-width="0.75"/>
<line x1="160.44" y1="260.3" x2="160.44" y2="261.90" stroke="#222" stroke-width="0.75"/>
<line x1="164.44" y1="260.3" x2="164.44" y2="261.90" stroke="#222" stroke-width="0.75"/>
<line x1="167.53" y1="260.3" x2="167.53" y2="261.90" stroke="#222" stroke-width="0.75"/>
<line x1="170.06" y1="260.3" x2="170.06" y2="261.90" stroke="#222" stroke-width="0.75"/>
<line x1="172.20" y1="260.3" x2="172.20" y2="261.90" stroke="#222" stroke-width="0.75"/>
<line x1="174.05" y1="260.3" x2="174.05" y2="261.90" stroke="#222" stroke-width="0.75"/>
<line x1="175.69" y1="260.3" x2="175.69" y2="261.90" stroke="#222" stroke-width="0.75"/>
<line x1="177.15" y1="260.3" x2="177.15" y2="263.10" stroke="#222" stroke-width="0.75"/>
<line x1="186.77" y1="260.3" x2="186.77" y2="261.90" stroke="#222" stroke-width="0.75"/>
<line x1="192.39" y1="260.3" x2="192.39" y2="261.90" stroke="#222" stroke-width="0.75"/>
<line x1="196.39" y1="260.3" x2="196.39" y2="261.90" stroke="#222" stroke-width="0.75"/>
<line x1="199.48" y1="260.3" x2="199.48" y2="261.90" stroke="#222" stroke-width="0.75"/>
<line x1="202.01" y1="260.3" x2="202.01" y2="261.90" stroke="#222" stroke-width="0.75"/>
<line x1="204.15" y1="260.3" x2="204.15" y2="261.90" stroke="#222" stroke-width="0.75"/>
<line x1="206.00" y1="260.3" x2="206.00" y2="261.90" stroke="#222" stroke-width="0.75"/>
<line x1="207.64" y1="260.3" x2="207.64" y2="261.90" stroke="#222" stroke-width="0.75"/>
<line x1="209.10" y1="260.3" x2="209.10" y2="263.10" stroke="#222" stroke-width="0.75"/>
<line x1="218.72" y1="260.3" x2="218.72" y2="261.90" stroke="#222" stroke-width="0.75"/>
<line x1="224.34" y1="260.3" x2="224.34" y2="261.90" stroke="#222" stroke-width="0.75"/>
<line x1="228.34" y1="260.3" x2="228.34" y2="261.90" stroke="#222" stroke-width="0.75"/>
<line x1="231.43" y1="260.3" x2="231.43" y2="261.90" stroke="#222" stroke-width="0.75"/>
<line x1="233.96" y1="260.3" x2="233.96" y2="261.90" stroke="#222" stroke-width="0.75"/>
<text x="44.75" y="115.00" text-anchor="end" font-size="10.5">100</text>
<text x="44.75" y="263.20" text-anchor="end" font-size="10.5">0</text>
<text x="49.85" y="277.6" text-anchor="middle" font-size="10.5">10<tspan font-size="7.4" dy="-4.0">-2</tspan></text>
<text x="81.80" y="277.6" text-anchor="middle" font-size="10.5">10<tspan font-size="7.4" dy="-4.0">-1</tspan></text>
<text x="113.25" y="277.6" text-anchor="middle" font-size="10.5">1</text>
<text x="145.20" y="277.6" text-anchor="middle" font-size="10.5">10</text>
<text x="177.65" y="277.6" text-anchor="middle" font-size="10.5">10<tspan font-size="7.4" dy="-4.0">2</tspan></text>
<text x="209.60" y="277.6" text-anchor="middle" font-size="10.5">10<tspan font-size="7.4" dy="-4.0">3</tspan></text>
<line x1="280.5" y1="111.4" x2="280.5" y2="260.3" stroke="#4a4a4a" stroke-width="0.8"/>
<line x1="280.5" y1="260.3" x2="465.70" y2="260.3" stroke="#4a4a4a" stroke-width="0.8"/>
<line x1="277.70" y1="260.30" x2="280.5" y2="260.30" stroke="#222" stroke-width="0.75"/>
<line x1="278.80" y1="230.52" x2="280.5" y2="230.52" stroke="#222" stroke-width="0.75"/>
<line x1="278.80" y1="200.74" x2="280.5" y2="200.74" stroke="#222" stroke-width="0.75"/>
<line x1="278.80" y1="170.96" x2="280.5" y2="170.96" stroke="#222" stroke-width="0.75"/>
<line x1="278.80" y1="141.18" x2="280.5" y2="141.18" stroke="#222" stroke-width="0.75"/>
<line x1="277.70" y1="111.40" x2="280.5" y2="111.40" stroke="#222" stroke-width="0.75"/>
<line x1="280.50" y1="260.3" x2="280.50" y2="263.10" stroke="#222" stroke-width="0.75"/>
<line x1="290.12" y1="260.3" x2="290.12" y2="261.90" stroke="#222" stroke-width="0.75"/>
<line x1="295.74" y1="260.3" x2="295.74" y2="261.90" stroke="#222" stroke-width="0.75"/>
<line x1="299.74" y1="260.3" x2="299.74" y2="261.90" stroke="#222" stroke-width="0.75"/>
<line x1="302.83" y1="260.3" x2="302.83" y2="261.90" stroke="#222" stroke-width="0.75"/>
<line x1="305.36" y1="260.3" x2="305.36" y2="261.90" stroke="#222" stroke-width="0.75"/>
<line x1="307.50" y1="260.3" x2="307.50" y2="261.90" stroke="#222" stroke-width="0.75"/>
<line x1="309.35" y1="260.3" x2="309.35" y2="261.90" stroke="#222" stroke-width="0.75"/>
<line x1="310.99" y1="260.3" x2="310.99" y2="261.90" stroke="#222" stroke-width="0.75"/>
<line x1="312.45" y1="260.3" x2="312.45" y2="263.10" stroke="#222" stroke-width="0.75"/>
<line x1="322.07" y1="260.3" x2="322.07" y2="261.90" stroke="#222" stroke-width="0.75"/>
<line x1="327.69" y1="260.3" x2="327.69" y2="261.90" stroke="#222" stroke-width="0.75"/>
<line x1="331.69" y1="260.3" x2="331.69" y2="261.90" stroke="#222" stroke-width="0.75"/>
<line x1="334.78" y1="260.3" x2="334.78" y2="261.90" stroke="#222" stroke-width="0.75"/>
<line x1="337.31" y1="260.3" x2="337.31" y2="261.90" stroke="#222" stroke-width="0.75"/>
<line x1="339.45" y1="260.3" x2="339.45" y2="261.90" stroke="#222" stroke-width="0.75"/>
<line x1="341.30" y1="260.3" x2="341.30" y2="261.90" stroke="#222" stroke-width="0.75"/>
<line x1="342.94" y1="260.3" x2="342.94" y2="261.90" stroke="#222" stroke-width="0.75"/>
<line x1="344.40" y1="260.3" x2="344.40" y2="263.10" stroke="#222" stroke-width="0.75"/>
<line x1="354.02" y1="260.3" x2="354.02" y2="261.90" stroke="#222" stroke-width="0.75"/>
<line x1="359.64" y1="260.3" x2="359.64" y2="261.90" stroke="#222" stroke-width="0.75"/>
<line x1="363.64" y1="260.3" x2="363.64" y2="261.90" stroke="#222" stroke-width="0.75"/>
<line x1="366.73" y1="260.3" x2="366.73" y2="261.90" stroke="#222" stroke-width="0.75"/>
<line x1="369.26" y1="260.3" x2="369.26" y2="261.90" stroke="#222" stroke-width="0.75"/>
<line x1="371.40" y1="260.3" x2="371.40" y2="261.90" stroke="#222" stroke-width="0.75"/>
<line x1="373.25" y1="260.3" x2="373.25" y2="261.90" stroke="#222" stroke-width="0.75"/>
<line x1="374.89" y1="260.3" x2="374.89" y2="261.90" stroke="#222" stroke-width="0.75"/>
<line x1="376.35" y1="260.3" x2="376.35" y2="263.10" stroke="#222" stroke-width="0.75"/>
<line x1="385.97" y1="260.3" x2="385.97" y2="261.90" stroke="#222" stroke-width="0.75"/>
<line x1="391.59" y1="260.3" x2="391.59" y2="261.90" stroke="#222" stroke-width="0.75"/>
<line x1="395.59" y1="260.3" x2="395.59" y2="261.90" stroke="#222" stroke-width="0.75"/>
<line x1="398.68" y1="260.3" x2="398.68" y2="261.90" stroke="#222" stroke-width="0.75"/>
<line x1="401.21" y1="260.3" x2="401.21" y2="261.90" stroke="#222" stroke-width="0.75"/>
<line x1="403.35" y1="260.3" x2="403.35" y2="261.90" stroke="#222" stroke-width="0.75"/>
<line x1="405.20" y1="260.3" x2="405.20" y2="261.90" stroke="#222" stroke-width="0.75"/>
<line x1="406.84" y1="260.3" x2="406.84" y2="261.90" stroke="#222" stroke-width="0.75"/>
<line x1="408.30" y1="260.3" x2="408.30" y2="263.10" stroke="#222" stroke-width="0.75"/>
<line x1="417.92" y1="260.3" x2="417.92" y2="261.90" stroke="#222" stroke-width="0.75"/>
<line x1="423.54" y1="260.3" x2="423.54" y2="261.90" stroke="#222" stroke-width="0.75"/>
<line x1="427.54" y1="260.3" x2="427.54" y2="261.90" stroke="#222" stroke-width="0.75"/>
<line x1="430.63" y1="260.3" x2="430.63" y2="261.90" stroke="#222" stroke-width="0.75"/>
<line x1="433.16" y1="260.3" x2="433.16" y2="261.90" stroke="#222" stroke-width="0.75"/>
<line x1="435.30" y1="260.3" x2="435.30" y2="261.90" stroke="#222" stroke-width="0.75"/>
<line x1="437.15" y1="260.3" x2="437.15" y2="261.90" stroke="#222" stroke-width="0.75"/>
<line x1="438.79" y1="260.3" x2="438.79" y2="261.90" stroke="#222" stroke-width="0.75"/>
<line x1="440.25" y1="260.3" x2="440.25" y2="263.10" stroke="#222" stroke-width="0.75"/>
<line x1="449.87" y1="260.3" x2="449.87" y2="261.90" stroke="#222" stroke-width="0.75"/>
<line x1="455.49" y1="260.3" x2="455.49" y2="261.90" stroke="#222" stroke-width="0.75"/>
<line x1="459.49" y1="260.3" x2="459.49" y2="261.90" stroke="#222" stroke-width="0.75"/>
<line x1="462.58" y1="260.3" x2="462.58" y2="261.90" stroke="#222" stroke-width="0.75"/>
<line x1="465.11" y1="260.3" x2="465.11" y2="261.90" stroke="#222" stroke-width="0.75"/>
<text x="275.90" y="115.00" text-anchor="end" font-size="10.5">100</text>
<text x="275.90" y="263.20" text-anchor="end" font-size="10.5">0</text>
<text x="281.00" y="277.6" text-anchor="middle" font-size="10.5">10<tspan font-size="7.4" dy="-4.0">-2</tspan></text>
<text x="312.95" y="277.6" text-anchor="middle" font-size="10.5">10<tspan font-size="7.4" dy="-4.0">-1</tspan></text>
<text x="344.40" y="277.6" text-anchor="middle" font-size="10.5">1</text>
<text x="376.35" y="277.6" text-anchor="middle" font-size="10.5">10</text>
<text x="408.80" y="277.6" text-anchor="middle" font-size="10.5">10<tspan font-size="7.4" dy="-4.0">2</tspan></text>
<text x="440.75" y="277.6" text-anchor="middle" font-size="10.5">10<tspan font-size="7.4" dy="-4.0">3</tspan></text>
<line x1="510.45" y1="111.4" x2="510.45" y2="260.3" stroke="#4a4a4a" stroke-width="0.8"/>
<line x1="510.45" y1="260.3" x2="695.65" y2="260.3" stroke="#4a4a4a" stroke-width="0.8"/>
<line x1="507.65" y1="260.30" x2="510.45" y2="260.30" stroke="#222" stroke-width="0.75"/>
<line x1="508.75" y1="230.52" x2="510.45" y2="230.52" stroke="#222" stroke-width="0.75"/>
<line x1="508.75" y1="200.74" x2="510.45" y2="200.74" stroke="#222" stroke-width="0.75"/>
<line x1="508.75" y1="170.96" x2="510.45" y2="170.96" stroke="#222" stroke-width="0.75"/>
<line x1="508.75" y1="141.18" x2="510.45" y2="141.18" stroke="#222" stroke-width="0.75"/>
<line x1="507.65" y1="111.40" x2="510.45" y2="111.40" stroke="#222" stroke-width="0.75"/>
<line x1="510.45" y1="260.3" x2="510.45" y2="263.10" stroke="#222" stroke-width="0.75"/>
<line x1="520.07" y1="260.3" x2="520.07" y2="261.90" stroke="#222" stroke-width="0.75"/>
<line x1="525.69" y1="260.3" x2="525.69" y2="261.90" stroke="#222" stroke-width="0.75"/>
<line x1="529.69" y1="260.3" x2="529.69" y2="261.90" stroke="#222" stroke-width="0.75"/>
<line x1="532.78" y1="260.3" x2="532.78" y2="261.90" stroke="#222" stroke-width="0.75"/>
<line x1="535.31" y1="260.3" x2="535.31" y2="261.90" stroke="#222" stroke-width="0.75"/>
<line x1="537.45" y1="260.3" x2="537.45" y2="261.90" stroke="#222" stroke-width="0.75"/>
<line x1="539.30" y1="260.3" x2="539.30" y2="261.90" stroke="#222" stroke-width="0.75"/>
<line x1="540.94" y1="260.3" x2="540.94" y2="261.90" stroke="#222" stroke-width="0.75"/>
<line x1="542.40" y1="260.3" x2="542.40" y2="263.10" stroke="#222" stroke-width="0.75"/>
<line x1="552.02" y1="260.3" x2="552.02" y2="261.90" stroke="#222" stroke-width="0.75"/>
<line x1="557.64" y1="260.3" x2="557.64" y2="261.90" stroke="#222" stroke-width="0.75"/>
<line x1="561.64" y1="260.3" x2="561.64" y2="261.90" stroke="#222" stroke-width="0.75"/>
<line x1="564.73" y1="260.3" x2="564.73" y2="261.90" stroke="#222" stroke-width="0.75"/>
<line x1="567.26" y1="260.3" x2="567.26" y2="261.90" stroke="#222" stroke-width="0.75"/>
<line x1="569.40" y1="260.3" x2="569.40" y2="261.90" stroke="#222" stroke-width="0.75"/>
<line x1="571.25" y1="260.3" x2="571.25" y2="261.90" stroke="#222" stroke-width="0.75"/>
<line x1="572.89" y1="260.3" x2="572.89" y2="261.90" stroke="#222" stroke-width="0.75"/>
<line x1="574.35" y1="260.3" x2="574.35" y2="263.10" stroke="#222" stroke-width="0.75"/>
<line x1="583.97" y1="260.3" x2="583.97" y2="261.90" stroke="#222" stroke-width="0.75"/>
<line x1="589.59" y1="260.3" x2="589.59" y2="261.90" stroke="#222" stroke-width="0.75"/>
<line x1="593.59" y1="260.3" x2="593.59" y2="261.90" stroke="#222" stroke-width="0.75"/>
<line x1="596.68" y1="260.3" x2="596.68" y2="261.90" stroke="#222" stroke-width="0.75"/>
<line x1="599.21" y1="260.3" x2="599.21" y2="261.90" stroke="#222" stroke-width="0.75"/>
<line x1="601.35" y1="260.3" x2="601.35" y2="261.90" stroke="#222" stroke-width="0.75"/>
<line x1="603.20" y1="260.3" x2="603.20" y2="261.90" stroke="#222" stroke-width="0.75"/>
<line x1="604.84" y1="260.3" x2="604.84" y2="261.90" stroke="#222" stroke-width="0.75"/>
<line x1="606.30" y1="260.3" x2="606.30" y2="263.10" stroke="#222" stroke-width="0.75"/>
<line x1="615.92" y1="260.3" x2="615.92" y2="261.90" stroke="#222" stroke-width="0.75"/>
<line x1="621.54" y1="260.3" x2="621.54" y2="261.90" stroke="#222" stroke-width="0.75"/>
<line x1="625.54" y1="260.3" x2="625.54" y2="261.90" stroke="#222" stroke-width="0.75"/>
<line x1="628.63" y1="260.3" x2="628.63" y2="261.90" stroke="#222" stroke-width="0.75"/>
<line x1="631.16" y1="260.3" x2="631.16" y2="261.90" stroke="#222" stroke-width="0.75"/>
<line x1="633.30" y1="260.3" x2="633.30" y2="261.90" stroke="#222" stroke-width="0.75"/>
<line x1="635.15" y1="260.3" x2="635.15" y2="261.90" stroke="#222" stroke-width="0.75"/>
<line x1="636.79" y1="260.3" x2="636.79" y2="261.90" stroke="#222" stroke-width="0.75"/>
<line x1="638.25" y1="260.3" x2="638.25" y2="263.10" stroke="#222" stroke-width="0.75"/>
<line x1="647.87" y1="260.3" x2="647.87" y2="261.90" stroke="#222" stroke-width="0.75"/>
<line x1="653.49" y1="260.3" x2="653.49" y2="261.90" stroke="#222" stroke-width="0.75"/>
<line x1="657.49" y1="260.3" x2="657.49" y2="261.90" stroke="#222" stroke-width="0.75"/>
<line x1="660.58" y1="260.3" x2="660.58" y2="261.90" stroke="#222" stroke-width="0.75"/>
<line x1="663.11" y1="260.3" x2="663.11" y2="261.90" stroke="#222" stroke-width="0.75"/>
<line x1="665.25" y1="260.3" x2="665.25" y2="261.90" stroke="#222" stroke-width="0.75"/>
<line x1="667.10" y1="260.3" x2="667.10" y2="261.90" stroke="#222" stroke-width="0.75"/>
<line x1="668.74" y1="260.3" x2="668.74" y2="261.90" stroke="#222" stroke-width="0.75"/>
<line x1="670.20" y1="260.3" x2="670.20" y2="263.10" stroke="#222" stroke-width="0.75"/>
<line x1="679.82" y1="260.3" x2="679.82" y2="261.90" stroke="#222" stroke-width="0.75"/>
<line x1="685.44" y1="260.3" x2="685.44" y2="261.90" stroke="#222" stroke-width="0.75"/>
<line x1="689.44" y1="260.3" x2="689.44" y2="261.90" stroke="#222" stroke-width="0.75"/>
<line x1="692.53" y1="260.3" x2="692.53" y2="261.90" stroke="#222" stroke-width="0.75"/>
<line x1="695.06" y1="260.3" x2="695.06" y2="261.90" stroke="#222" stroke-width="0.75"/>
<text x="505.85" y="115.00" text-anchor="end" font-size="10.5">100</text>
<text x="505.85" y="263.20" text-anchor="end" font-size="10.5">0</text>
<text x="510.95" y="277.6" text-anchor="middle" font-size="10.5">10<tspan font-size="7.4" dy="-4.0">-2</tspan></text>
<text x="542.90" y="277.6" text-anchor="middle" font-size="10.5">10<tspan font-size="7.4" dy="-4.0">-1</tspan></text>
<text x="574.35" y="277.6" text-anchor="middle" font-size="10.5">1</text>
<text x="606.30" y="277.6" text-anchor="middle" font-size="10.5">10</text>
<text x="638.75" y="277.6" text-anchor="middle" font-size="10.5">10<tspan font-size="7.4" dy="-4.0">2</tspan></text>
<text x="670.70" y="277.6" text-anchor="middle" font-size="10.5">10<tspan font-size="7.4" dy="-4.0">3</tspan></text>
<text x="3.8" y="95.7" font-size="12.4">(a)</text>
<text x="235.0" y="95.7" font-size="12.4">(b)</text>
<text x="464.4" y="95.7" font-size="12.4">(c)</text>
<text x="142.35" y="103.7" font-size="12" font-weight="bold" font-style="italic" text-anchor="middle" word-spacing="0.7">d = 1</text>
<text x="373.50" y="103.7" font-size="12" font-weight="bold" font-style="italic" text-anchor="middle" word-spacing="0.7">d = 10</text>
<text x="603.45" y="103.7" font-size="12" font-weight="bold" font-style="italic" text-anchor="middle" word-spacing="0.7">d = 100</text>
<text transform="translate(14.8,189.8) rotate(-90)" font-size="13" text-anchor="middle">Absorption (%)</text>
<text x="373.3" y="296.9" font-size="13" text-anchor="middle">Bandwidth (GHz)</text>
<rect x="644.2" y="113.75" width="84.8" height="52.3" fill="#707070"/>
<rect x="642.4" y="111.4" width="84.8" height="52.3" fill="#fff" stroke="#bdbdbd" stroke-width="0.7"/>
<line x1="646" y1="119.90" x2="668" y2="119.90" stroke="#1f78b4" stroke-width="1.8"/>
<text x="672.9" y="123.00" font-size="9.2"><tspan font-style="italic">γ</tspan> = 1 MHz</text>
<line x1="646" y1="132.20" x2="668" y2="132.20" stroke="#33a02c" stroke-width="1.8"/>
<text x="672.9" y="135.30" font-size="9.2"><tspan font-style="italic">γ</tspan> = 10 MHz</text>
<line x1="646" y1="144.50" x2="668" y2="144.50" stroke="#e31a1c" stroke-width="1.8"/>
<text x="672.9" y="147.60" font-size="9.2"><tspan font-style="italic">γ</tspan> = 100 MHz</text>
<line x1="646" y1="156.80" x2="668" y2="156.80" stroke="#ff7f00" stroke-width="1.8"/>
<text x="672.9" y="159.90" font-size="9.2"><tspan font-style="italic">γ</tspan> = 1 GHz</text>
</svg>
</body></html>
